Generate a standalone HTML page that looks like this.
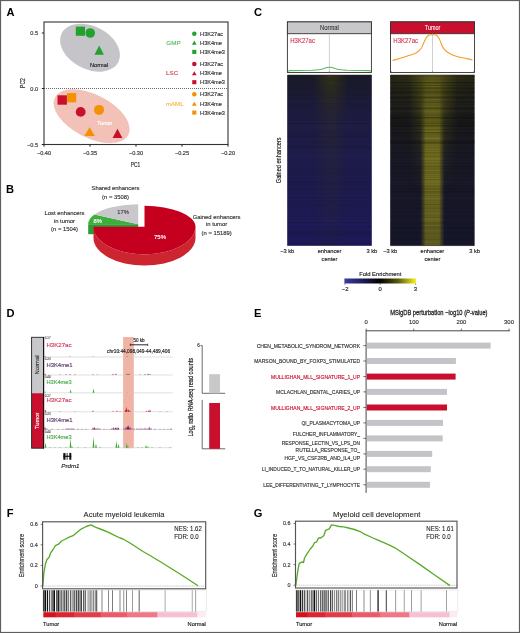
<!DOCTYPE html>
<html><head><meta charset="utf-8"><style>
html,body{margin:0;padding:0;background:#fff;}
svg{display:block;will-change:transform;}
text{font-family:"Liberation Sans", sans-serif;}
</style></head><body>
<svg width="520" height="633" viewBox="0 0 520 633">
<rect width="520" height="633" fill="#fff"/>
<text x="6.40" y="16.10" font-size="11.1" fill="#000" font-weight="bold" >A</text>
<text x="5.90" y="193.10" font-size="11.1" fill="#000" font-weight="bold" >B</text>
<text x="253.90" y="16.30" font-size="11.1" fill="#000" font-weight="bold" >C</text>
<text x="6.40" y="316.80" font-size="11.1" fill="#000" font-weight="bold" >D</text>
<text x="253.90" y="316.80" font-size="11.1" fill="#000" font-weight="bold" >E</text>
<text x="6.80" y="517.40" font-size="11.1" fill="#000" font-weight="bold" >F</text>
<text x="253.70" y="517.40" font-size="11.1" fill="#000" font-weight="bold" >G</text>
<ellipse cx="90" cy="47.7" rx="31.8" ry="21.5" transform="rotate(27 90 47.7)" fill="#c5c5c9"/>
<ellipse cx="91.6" cy="116.2" rx="41.3" ry="21.6" transform="rotate(27 91.6 116.2)" fill="#f2c2b8"/>
<rect x="75.80" y="26.60" width="9.2" height="9.2" fill="#22a12e"/>
<circle cx="90.2" cy="33.0" r="4.8" fill="#22a12e"/>
<path d="M94.50 54.70 L99.20 45.50 L103.90 54.70Z" fill="#22a12e"/>
<rect x="67.00" y="93.10" width="9.2" height="9.2" fill="#f39200"/>
<rect x="57.50" y="95.30" width="9.4" height="9.4" fill="#c8102e"/>
<circle cx="80.65" cy="111.9" r="4.9" fill="#c8102e"/>
<circle cx="99" cy="109.9" r="5" fill="#f39200"/>
<path d="M84.30 135.90 L89.60 127.20 L94.90 135.90Z" fill="#f39200"/>
<path d="M112.60 138.10 L117.50 128.70 L122.40 138.10Z" fill="#c8102e"/>
<text x="99.00" y="67.00" font-size="5.6" fill="#222" text-anchor="middle" stroke="#222" stroke-width="0.15" >Normal</text>
<text x="104.80" y="125.30" font-size="5.4" fill="#fff" text-anchor="middle" stroke="#fff" stroke-width="0.15" textLength="14.9" lengthAdjust="spacingAndGlyphs" >Tumor</text>
<line x1="44" y1="88.5" x2="228" y2="88.5" stroke="#444" stroke-width="0.8" stroke-dasharray="1 1"/>
<rect x="44" y="22" width="184" height="122.5" fill="none" stroke="#333" stroke-width="1.1"/>
<line x1="41.8" y1="33" x2="44" y2="33" stroke="#222" stroke-width="1"/>
<text x="38.10" y="35.10" font-size="5.6" fill="#333" text-anchor="end" stroke="#333" stroke-width="0.15" >0.5</text>
<line x1="41.8" y1="88.5" x2="44" y2="88.5" stroke="#222" stroke-width="1"/>
<text x="38.10" y="90.60" font-size="5.6" fill="#333" text-anchor="end" stroke="#333" stroke-width="0.15" >0.0</text>
<line x1="41.8" y1="144.5" x2="44" y2="144.5" stroke="#222" stroke-width="1"/>
<text x="38.10" y="146.60" font-size="5.6" fill="#333" text-anchor="end" stroke="#333" stroke-width="0.15" >−0.5</text>
<line x1="44" y1="144.5" x2="44" y2="146.7" stroke="#222" stroke-width="1"/>
<text x="44.00" y="155.00" font-size="5.6" fill="#333" text-anchor="middle" stroke="#333" stroke-width="0.15" >−0.40</text>
<line x1="90" y1="144.5" x2="90" y2="146.7" stroke="#222" stroke-width="1"/>
<text x="90.00" y="155.00" font-size="5.6" fill="#333" text-anchor="middle" stroke="#333" stroke-width="0.15" >−0.35</text>
<line x1="136" y1="144.5" x2="136" y2="146.7" stroke="#222" stroke-width="1"/>
<text x="136.00" y="155.00" font-size="5.6" fill="#333" text-anchor="middle" stroke="#333" stroke-width="0.15" >−0.30</text>
<line x1="182" y1="144.5" x2="182" y2="146.7" stroke="#222" stroke-width="1"/>
<text x="182.00" y="155.00" font-size="5.6" fill="#333" text-anchor="middle" stroke="#333" stroke-width="0.15" >−0.25</text>
<line x1="228" y1="144.5" x2="228" y2="146.7" stroke="#222" stroke-width="1"/>
<text x="228.00" y="155.00" font-size="5.6" fill="#333" text-anchor="middle" stroke="#333" stroke-width="0.15" >−0.20</text>
<text x="135.50" y="167.00" font-size="7.6" fill="#222" text-anchor="middle" stroke="#222" stroke-width="0.15" textLength="9.6" lengthAdjust="spacingAndGlyphs" >PC1</text>
<text x="24.60" y="83.00" font-size="7.6" fill="#222" text-anchor="middle" stroke="#222" stroke-width="0.15" textLength="9.8" lengthAdjust="spacingAndGlyphs" transform="rotate(-90 24.60 83.00)" >PC2</text>
<circle cx="194.3" cy="33.7" r="2.25" fill="#22a12e"/>
<text x="200.10" y="35.70" font-size="5.6" fill="#333" stroke="#333" stroke-width="0.15" >H3K27ac</text>
<path d="M192.00 44.65 L194.30 40.55 L196.60 44.65Z" fill="#22a12e"/>
<text x="200.10" y="44.50" font-size="5.6" fill="#333" stroke="#333" stroke-width="0.15" >H3K4me</text>
<rect x="192.25" y="49.85" width="4.1" height="4.1" fill="#22a12e"/>
<text x="200.10" y="53.90" font-size="5.6" fill="#333" stroke="#333" stroke-width="0.15" >H3K4me3</text>
<circle cx="194.3" cy="64" r="2.25" fill="#c8102e"/>
<text x="200.10" y="66.00" font-size="5.6" fill="#333" stroke="#333" stroke-width="0.15" >H3K27ac</text>
<path d="M192.00 75.25 L194.30 71.15 L196.60 75.25Z" fill="#c8102e"/>
<text x="200.10" y="75.10" font-size="5.6" fill="#333" stroke="#333" stroke-width="0.15" >H3K4me</text>
<rect x="192.25" y="80.15" width="4.1" height="4.1" fill="#c8102e"/>
<text x="200.10" y="84.20" font-size="5.6" fill="#333" stroke="#333" stroke-width="0.15" >H3K4me3</text>
<circle cx="194.3" cy="94.3" r="2.25" fill="#f39200"/>
<text x="200.10" y="96.30" font-size="5.6" fill="#333" stroke="#333" stroke-width="0.15" >H3K27ac</text>
<path d="M192.00 105.65 L194.30 101.55 L196.60 105.65Z" fill="#f39200"/>
<text x="200.10" y="105.50" font-size="5.6" fill="#333" stroke="#333" stroke-width="0.15" >H3K4me</text>
<rect x="192.25" y="110.55" width="4.1" height="4.1" fill="#f39200"/>
<text x="200.10" y="114.60" font-size="5.6" fill="#333" stroke="#333" stroke-width="0.15" >H3K4me3</text>
<text x="166.30" y="44.60" font-size="6.2" fill="#5cb85c" stroke="#5cb85c" stroke-width="0.15" textLength="14.4" lengthAdjust="spacingAndGlyphs" >GMP</text>
<text x="166.10" y="75.30" font-size="6.2" fill="#d0485a" stroke="#d0485a" stroke-width="0.15" textLength="12.1" lengthAdjust="spacingAndGlyphs" >LSC</text>
<text x="166.10" y="105.60" font-size="6.2" fill="#f5b54a" stroke="#f5b54a" stroke-width="0.15" textLength="17.4" lengthAdjust="spacingAndGlyphs" >mAML</text>
<rect x="88.20" y="224.20" width="50" height="10" fill="#2f9a33"/>
<path d="M138.2 224.2 L88.20 224.20 A50 20 0 0 1 94.38 214.56 Z" fill="#3fae3c"/>
<path d="M138.2 224.2 L94.38 214.56 A50 20 0 0 1 138.20 204.20 Z" fill="#c8c8cc"/>
<path d="M195.5 226.8 A51 27.6 0 0 1 93.5 226.8 L93.5 237.9 A51 27.6 0 0 0 195.5 237.9 Z" fill="#cc2530"/>
<path d="M144.5 226.8 L144.5 205.8 A51 21 0 0 1 195.5 226.8 A51 27.6 0 0 1 93.5 226.8 Z" fill="#c5001f"/>
<text x="123.00" y="214.30" font-size="5.8" fill="#444" text-anchor="middle" stroke="#444" stroke-width="0.15" >17%</text>
<text x="97.80" y="222.80" font-size="5.8" fill="#fff" text-anchor="middle" stroke="#fff" stroke-width="0.15" >8%</text>
<text x="160.00" y="239.40" font-size="6" fill="#fff" text-anchor="middle" stroke="#fff" stroke-width="0.15" >75%</text>
<text x="115.50" y="190.30" font-size="5.85" fill="#333" text-anchor="middle" stroke="#333" stroke-width="0.15" >Shared enhancers</text>
<text x="115.50" y="198.60" font-size="5.85" fill="#333" text-anchor="middle" stroke="#333" stroke-width="0.15" >(n = 3508)</text>
<text x="64.50" y="215.10" font-size="5.85" fill="#333" text-anchor="middle" stroke="#333" stroke-width="0.15" >Lost enhancers</text>
<text x="64.50" y="222.90" font-size="5.85" fill="#333" text-anchor="middle" stroke="#333" stroke-width="0.15" >in tumor</text>
<text x="64.50" y="230.60" font-size="5.85" fill="#333" text-anchor="middle" stroke="#333" stroke-width="0.15" >(n = 1504)</text>
<text x="216.60" y="218.60" font-size="5.85" fill="#333" text-anchor="middle" stroke="#333" stroke-width="0.15" >Gained enhancers</text>
<text x="216.60" y="226.30" font-size="5.85" fill="#333" text-anchor="middle" stroke="#333" stroke-width="0.15" >in tumor</text>
<text x="216.60" y="234.60" font-size="5.85" fill="#333" text-anchor="middle" stroke="#333" stroke-width="0.15" >(n = 15189)</text>
<rect x="287.4" y="21.9" width="84.00" height="50.60" fill="#fff" stroke="#333" stroke-width="0.9"/>
<rect x="287.4" y="21.9" width="84.00" height="11.80" fill="#c8c8cb" stroke="#333" stroke-width="0.9"/>
<text x="329.40" y="30.20" font-size="6.6" fill="#333" text-anchor="middle" stroke="#333" stroke-width="0.08" textLength="18.9" lengthAdjust="spacingAndGlyphs" >Normal</text>
<line x1="329.40" y1="33.7" x2="329.40" y2="72.5" stroke="#b0b0b0" stroke-width="0.6"/>
<text x="290.20" y="42.70" font-size="6.6" fill="#d0304a" stroke="#d0304a" stroke-width="0.1" textLength="24.8" lengthAdjust="spacingAndGlyphs" >H3K27ac</text>
<line x1="288.40" y1="71.3" x2="288.40" y2="73.2" stroke="#555" stroke-width="0.6"/>
<line x1="329.40" y1="71.3" x2="329.40" y2="73.2" stroke="#555" stroke-width="0.6"/>
<line x1="370.40" y1="71.3" x2="370.40" y2="73.2" stroke="#555" stroke-width="0.6"/>
<rect x="390.5" y="21.9" width="84.00" height="50.60" fill="#fff" stroke="#333" stroke-width="0.9"/>
<rect x="390.5" y="21.9" width="84.00" height="11.80" fill="#c8102e" stroke="#333" stroke-width="0.9"/>
<text x="432.50" y="30.20" font-size="6.6" fill="#fff" text-anchor="middle" stroke="#fff" stroke-width="0.08" textLength="15.4" lengthAdjust="spacingAndGlyphs" >Tumor</text>
<line x1="432.50" y1="33.7" x2="432.50" y2="72.5" stroke="#b0b0b0" stroke-width="0.6"/>
<text x="393.30" y="42.70" font-size="6.6" fill="#d0304a" stroke="#d0304a" stroke-width="0.1" textLength="24.8" lengthAdjust="spacingAndGlyphs" >H3K27ac</text>
<line x1="391.50" y1="71.3" x2="391.50" y2="73.2" stroke="#555" stroke-width="0.6"/>
<line x1="432.50" y1="71.3" x2="432.50" y2="73.2" stroke="#555" stroke-width="0.6"/>
<line x1="473.50" y1="71.3" x2="473.50" y2="73.2" stroke="#555" stroke-width="0.6"/>
<path d="M288.5 70.6 L312 70.3 Q320 69.8 324 68.4 Q329.4 66.2 335 68.4 Q339 69.8 347 70.3 L370.5 70.6" fill="none" stroke="#5cb85c" stroke-width="1.1"/>
<path d="M392.50 60.50 C394.92 59.78 403.00 57.50 407.00 56.20 C411.00 54.90 414.12 54.02 416.50 52.70 C418.88 51.38 420.08 49.97 421.30 48.30 C422.52 46.63 422.98 44.45 423.80 42.70 C424.62 40.95 425.33 39.07 426.20 37.80 C427.07 36.53 427.97 35.62 429.00 35.10 C430.03 34.58 431.27 34.70 432.40 34.70 C433.53 34.70 434.75 34.58 435.80 35.10 C436.85 35.62 437.80 36.42 438.70 37.80 C439.60 39.18 440.40 41.65 441.20 43.40 C442.00 45.15 442.17 46.65 443.50 48.30 C444.83 49.95 446.97 51.93 449.20 53.30 C451.43 54.67 453.02 55.42 456.90 56.50 C460.78 57.58 469.90 59.25 472.50 59.80" fill="none" stroke="#f0a020" stroke-width="1.1"/>
<defs>
<linearGradient id="hmL" x1="0" y1="0" x2="0" y2="1">
 <stop offset="0" stop-color="#1b1b26"/>
 <stop offset="0.08" stop-color="#1c1c32"/>
 <stop offset="0.17" stop-color="#1e1c3c"/>
 <stop offset="0.35" stop-color="#1f1d46"/>
 <stop offset="0.65" stop-color="#1f1c50"/>
 <stop offset="1" stop-color="#1d1a57"/>
</linearGradient>
<linearGradient id="hmLc" x1="0" y1="0" x2="1" y2="0">
 <stop offset="0" stop-color="#3a3a18" stop-opacity="0"/>
 <stop offset="0.3" stop-color="#3a3a18" stop-opacity="0.0"/>
 <stop offset="0.48" stop-color="#3a3a18" stop-opacity="0.7"/>
 <stop offset="0.55" stop-color="#3a3a18" stop-opacity="0.7"/>
 <stop offset="0.72" stop-color="#3a3a18" stop-opacity="0.0"/>
 <stop offset="1" stop-color="#3a3a18" stop-opacity="0"/>
</linearGradient>
<linearGradient id="hmLv" x1="0" y1="0" x2="0" y2="1">
 <stop offset="0" stop-color="#fff" stop-opacity="1"/>
 <stop offset="0.25" stop-color="#fff" stop-opacity="0.35"/>
 <stop offset="1" stop-color="#fff" stop-opacity="0.12"/>
</linearGradient>
<mask id="mLv" maskUnits="userSpaceOnUse" x="280" y="70" width="100" height="180"><rect x="287" y="74.8" width="85" height="171" fill="url(#hmLv)"/></mask>
<linearGradient id="hmR" x1="0" y1="0" x2="0" y2="1">
 <stop offset="0" stop-color="#22221a"/>
 <stop offset="0.25" stop-color="#1c1c20"/>
 <stop offset="0.6" stop-color="#1a1a2a"/>
 <stop offset="1" stop-color="#1a1a30"/>
</linearGradient>
<linearGradient id="hmRw" x1="0" y1="0" x2="1" y2="0">
 <stop offset="0" stop-color="#5a5a1e" stop-opacity="0.35"/>
 <stop offset="0.25" stop-color="#5a5a1e" stop-opacity="0.6"/>
 <stop offset="0.5" stop-color="#6a6a1e" stop-opacity="0.9"/>
 <stop offset="0.75" stop-color="#5a5a1e" stop-opacity="0.55"/>
 <stop offset="1" stop-color="#5a5a1e" stop-opacity="0.3"/>
</linearGradient>
<linearGradient id="hmRwv" x1="0" y1="0" x2="0" y2="1">
 <stop offset="0" stop-color="#fff" stop-opacity="0.8"/>
 <stop offset="0.04" stop-color="#fff" stop-opacity="0.45"/>
 <stop offset="0.15" stop-color="#fff" stop-opacity="0.2"/>
 <stop offset="0.4" stop-color="#fff" stop-opacity="0.0"/>
</linearGradient>
<mask id="mRw" maskUnits="userSpaceOnUse" x="380" y="70" width="100" height="180"><rect x="390" y="74.8" width="85" height="171" fill="url(#hmRwv)"/></mask>
<linearGradient id="hmRc" x1="0" y1="0" x2="1" y2="0">
 <stop offset="0" stop-color="#7e7a22" stop-opacity="0"/>
 <stop offset="0.355" stop-color="#7e7a22" stop-opacity="0.0"/>
 <stop offset="0.39" stop-color="#7e7a22" stop-opacity="0.45"/>
 <stop offset="0.42" stop-color="#827d22" stop-opacity="0.95"/>
 <stop offset="0.58" stop-color="#827d22" stop-opacity="0.95"/>
 <stop offset="0.61" stop-color="#7e7a22" stop-opacity="0.45"/>
 <stop offset="0.645" stop-color="#7e7a22" stop-opacity="0.0"/>
 <stop offset="1" stop-color="#7e7a22" stop-opacity="0"/>
</linearGradient>
<linearGradient id="hmRcv" x1="0" y1="0" x2="0" y2="1">
 <stop offset="0" stop-color="#fff" stop-opacity="0.25"/>
 <stop offset="0.12" stop-color="#fff" stop-opacity="0.45"/>
 <stop offset="0.3" stop-color="#fff" stop-opacity="0.85"/>
 <stop offset="0.6" stop-color="#fff" stop-opacity="0.9"/>
 <stop offset="1" stop-color="#fff" stop-opacity="0.8"/>
</linearGradient>
<mask id="mRc" maskUnits="userSpaceOnUse" x="380" y="70" width="100" height="180"><rect x="390" y="74.8" width="85" height="171" fill="url(#hmRcv)"/></mask>
<linearGradient id="hmRm" x1="0" y1="0" x2="1" y2="0">
 <stop offset="0" stop-color="#6a681e" stop-opacity="0"/>
 <stop offset="0.22" stop-color="#6a681e" stop-opacity="0.0"/>
 <stop offset="0.36" stop-color="#6a681e" stop-opacity="0.55"/>
 <stop offset="0.5" stop-color="#6a681e" stop-opacity="0.8"/>
 <stop offset="0.64" stop-color="#6a681e" stop-opacity="0.55"/>
 <stop offset="0.8" stop-color="#6a681e" stop-opacity="0.0"/>
 <stop offset="1" stop-color="#6a681e" stop-opacity="0"/>
</linearGradient>
<linearGradient id="hmRmv" x1="0" y1="0" x2="0" y2="1">
 <stop offset="0" stop-color="#fff" stop-opacity="0.9"/>
 <stop offset="0.2" stop-color="#fff" stop-opacity="0.7"/>
 <stop offset="0.45" stop-color="#fff" stop-opacity="0.25"/>
 <stop offset="0.7" stop-color="#fff" stop-opacity="0.0"/>
</linearGradient>
<mask id="mRm" maskUnits="userSpaceOnUse" x="380" y="70" width="100" height="180"><rect x="390" y="74.8" width="85" height="171" fill="url(#hmRmv)"/></mask>
<linearGradient id="cbar" x1="0" y1="0" x2="1" y2="0">
 <stop offset="0" stop-color="#3a3aa0"/>
 <stop offset="0.25" stop-color="#1e1e5a"/>
 <stop offset="0.5" stop-color="#000"/>
 <stop offset="0.75" stop-color="#5a5a10"/>
 <stop offset="1" stop-color="#f5f520"/>
</linearGradient>
</defs>
<rect x="287.2" y="74.8" width="84.6" height="171.0" fill="url(#hmL)"/>
<rect x="287.2" y="74.8" width="84.6" height="171.0" fill="url(#hmLc)" mask="url(#mLv)"/>
<rect x="287.2" y="74.80" width="84.6" height="0.7" fill="#000" opacity="0.09"/>
<rect x="287.2" y="75.50" width="84.6" height="1.0" fill="#3a3490" opacity="0.00"/>
<rect x="287.2" y="76.50" width="84.6" height="0.5" fill="#000" opacity="0.03"/>
<rect x="287.2" y="77.00" width="84.6" height="1.0" fill="#000" opacity="0.02"/>
<rect x="287.2" y="78.00" width="84.6" height="0.7" fill="#000" opacity="0.04"/>
<rect x="287.2" y="78.70" width="84.6" height="0.5" fill="#000" opacity="0.05"/>
<rect x="287.2" y="79.20" width="84.6" height="1.0" fill="#000" opacity="0.01"/>
<rect x="287.2" y="80.20" width="84.6" height="1.0" fill="#000" opacity="0.06"/>
<rect x="287.2" y="81.20" width="84.6" height="1.0" fill="#000" opacity="0.05"/>
<rect x="287.2" y="82.20" width="84.6" height="0.5" fill="#000" opacity="0.00"/>
<rect x="287.2" y="82.70" width="84.6" height="0.7" fill="#3a3490" opacity="0.04"/>
<rect x="287.2" y="83.40" width="84.6" height="0.5" fill="#3a3490" opacity="0.05"/>
<rect x="287.2" y="83.90" width="84.6" height="1.0" fill="#3a3490" opacity="0.02"/>
<rect x="287.2" y="84.90" width="84.6" height="1.0" fill="#000" opacity="0.06"/>
<rect x="287.2" y="85.90" width="84.6" height="0.5" fill="#000" opacity="0.05"/>
<rect x="287.2" y="86.40" width="84.6" height="1.0" fill="#000" opacity="0.01"/>
<rect x="287.2" y="87.40" width="84.6" height="0.7" fill="#000" opacity="0.06"/>
<rect x="287.2" y="88.10" width="84.6" height="0.7" fill="#000" opacity="0.04"/>
<rect x="287.2" y="88.80" width="84.6" height="0.7" fill="#000" opacity="0.03"/>
<rect x="287.2" y="89.50" width="84.6" height="1.0" fill="#000" opacity="0.07"/>
<rect x="287.2" y="90.50" width="84.6" height="1.0" fill="#000" opacity="0.03"/>
<rect x="287.2" y="91.50" width="84.6" height="0.7" fill="#000" opacity="0.07"/>
<rect x="287.2" y="92.20" width="84.6" height="1.0" fill="#000" opacity="0.09"/>
<rect x="287.2" y="93.20" width="84.6" height="1.0" fill="#000" opacity="0.04"/>
<rect x="287.2" y="94.20" width="84.6" height="0.5" fill="#000" opacity="0.08"/>
<rect x="287.2" y="94.70" width="84.6" height="0.5" fill="#000" opacity="0.09"/>
<rect x="287.2" y="95.20" width="84.6" height="1.0" fill="#000" opacity="0.05"/>
<rect x="287.2" y="96.20" width="84.6" height="0.7" fill="#3a3490" opacity="0.06"/>
<rect x="287.2" y="96.90" width="84.6" height="0.7" fill="#000" opacity="0.05"/>
<rect x="287.2" y="97.60" width="84.6" height="0.5" fill="#000" opacity="0.08"/>
<rect x="287.2" y="98.10" width="84.6" height="0.7" fill="#000" opacity="0.06"/>
<rect x="287.2" y="98.80" width="84.6" height="0.5" fill="#000" opacity="0.07"/>
<rect x="287.2" y="99.30" width="84.6" height="1.0" fill="#3a3490" opacity="0.05"/>
<rect x="287.2" y="100.30" width="84.6" height="0.7" fill="#000" opacity="0.03"/>
<rect x="287.2" y="101.00" width="84.6" height="1.0" fill="#000" opacity="0.03"/>
<rect x="287.2" y="102.00" width="84.6" height="0.7" fill="#000" opacity="0.02"/>
<rect x="287.2" y="102.70" width="84.6" height="0.7" fill="#000" opacity="0.01"/>
<rect x="287.2" y="103.40" width="84.6" height="0.5" fill="#000" opacity="0.07"/>
<rect x="287.2" y="103.90" width="84.6" height="0.7" fill="#000" opacity="0.08"/>
<rect x="287.2" y="104.60" width="84.6" height="0.5" fill="#000" opacity="0.01"/>
<rect x="287.2" y="105.10" width="84.6" height="1.0" fill="#000" opacity="0.03"/>
<rect x="287.2" y="106.10" width="84.6" height="0.7" fill="#000" opacity="0.08"/>
<rect x="287.2" y="106.80" width="84.6" height="1.0" fill="#000" opacity="0.04"/>
<rect x="287.2" y="107.80" width="84.6" height="1.0" fill="#000" opacity="0.08"/>
<rect x="287.2" y="108.80" width="84.6" height="0.5" fill="#000" opacity="0.01"/>
<rect x="287.2" y="109.30" width="84.6" height="0.5" fill="#000" opacity="0.06"/>
<rect x="287.2" y="109.80" width="84.6" height="0.7" fill="#000" opacity="0.07"/>
<rect x="287.2" y="110.50" width="84.6" height="0.7" fill="#000" opacity="0.03"/>
<rect x="287.2" y="111.20" width="84.6" height="0.7" fill="#3a3490" opacity="0.05"/>
<rect x="287.2" y="111.90" width="84.6" height="1.0" fill="#000" opacity="0.03"/>
<rect x="287.2" y="112.90" width="84.6" height="1.0" fill="#3a3490" opacity="0.08"/>
<rect x="287.2" y="113.90" width="84.6" height="1.0" fill="#000" opacity="0.06"/>
<rect x="287.2" y="114.90" width="84.6" height="0.7" fill="#3a3490" opacity="0.08"/>
<rect x="287.2" y="115.60" width="84.6" height="1.0" fill="#000" opacity="0.04"/>
<rect x="287.2" y="116.60" width="84.6" height="0.7" fill="#3a3490" opacity="0.01"/>
<rect x="287.2" y="117.30" width="84.6" height="0.7" fill="#000" opacity="0.01"/>
<rect x="287.2" y="118.00" width="84.6" height="0.5" fill="#000" opacity="0.04"/>
<rect x="287.2" y="118.50" width="84.6" height="0.7" fill="#000" opacity="0.05"/>
<rect x="287.2" y="119.20" width="84.6" height="0.5" fill="#3a3490" opacity="0.05"/>
<rect x="287.2" y="119.70" width="84.6" height="0.5" fill="#3a3490" opacity="0.09"/>
<rect x="287.2" y="120.20" width="84.6" height="0.5" fill="#000" opacity="0.01"/>
<rect x="287.2" y="120.70" width="84.6" height="1.0" fill="#3a3490" opacity="0.03"/>
<rect x="287.2" y="121.70" width="84.6" height="0.7" fill="#3a3490" opacity="0.09"/>
<rect x="287.2" y="122.40" width="84.6" height="0.7" fill="#000" opacity="0.04"/>
<rect x="287.2" y="123.10" width="84.6" height="0.7" fill="#000" opacity="0.09"/>
<rect x="287.2" y="123.80" width="84.6" height="0.7" fill="#000" opacity="0.04"/>
<rect x="287.2" y="124.50" width="84.6" height="0.5" fill="#000" opacity="0.01"/>
<rect x="287.2" y="125.00" width="84.6" height="1.0" fill="#3a3490" opacity="0.02"/>
<rect x="287.2" y="126.00" width="84.6" height="0.5" fill="#000" opacity="0.05"/>
<rect x="287.2" y="126.50" width="84.6" height="1.0" fill="#3a3490" opacity="0.03"/>
<rect x="287.2" y="127.50" width="84.6" height="1.0" fill="#3a3490" opacity="0.08"/>
<rect x="287.2" y="128.50" width="84.6" height="0.7" fill="#000" opacity="0.09"/>
<rect x="287.2" y="129.20" width="84.6" height="1.0" fill="#3a3490" opacity="0.08"/>
<rect x="287.2" y="130.20" width="84.6" height="0.7" fill="#000" opacity="0.08"/>
<rect x="287.2" y="130.90" width="84.6" height="0.5" fill="#3a3490" opacity="0.05"/>
<rect x="287.2" y="131.40" width="84.6" height="0.7" fill="#3a3490" opacity="0.06"/>
<rect x="287.2" y="132.10" width="84.6" height="0.5" fill="#000" opacity="0.07"/>
<rect x="287.2" y="132.60" width="84.6" height="1.0" fill="#000" opacity="0.07"/>
<rect x="287.2" y="133.60" width="84.6" height="1.0" fill="#3a3490" opacity="0.04"/>
<rect x="287.2" y="134.60" width="84.6" height="0.5" fill="#000" opacity="0.09"/>
<rect x="287.2" y="135.10" width="84.6" height="0.7" fill="#3a3490" opacity="0.02"/>
<rect x="287.2" y="135.80" width="84.6" height="1.0" fill="#000" opacity="0.09"/>
<rect x="287.2" y="136.80" width="84.6" height="1.0" fill="#000" opacity="0.09"/>
<rect x="287.2" y="137.80" width="84.6" height="0.5" fill="#000" opacity="0.02"/>
<rect x="287.2" y="138.30" width="84.6" height="0.7" fill="#000" opacity="0.02"/>
<rect x="287.2" y="139.00" width="84.6" height="0.7" fill="#3a3490" opacity="0.06"/>
<rect x="287.2" y="139.70" width="84.6" height="0.5" fill="#3a3490" opacity="0.04"/>
<rect x="287.2" y="140.20" width="84.6" height="0.7" fill="#000" opacity="0.07"/>
<rect x="287.2" y="140.90" width="84.6" height="1.0" fill="#000" opacity="0.01"/>
<rect x="287.2" y="141.90" width="84.6" height="1.0" fill="#000" opacity="0.07"/>
<rect x="287.2" y="142.90" width="84.6" height="0.5" fill="#3a3490" opacity="0.04"/>
<rect x="287.2" y="143.40" width="84.6" height="0.7" fill="#3a3490" opacity="0.01"/>
<rect x="287.2" y="144.10" width="84.6" height="0.7" fill="#3a3490" opacity="0.04"/>
<rect x="287.2" y="144.80" width="84.6" height="0.5" fill="#000" opacity="0.07"/>
<rect x="287.2" y="145.30" width="84.6" height="0.5" fill="#3a3490" opacity="0.00"/>
<rect x="287.2" y="145.80" width="84.6" height="0.7" fill="#000" opacity="0.07"/>
<rect x="287.2" y="146.50" width="84.6" height="1.0" fill="#000" opacity="0.07"/>
<rect x="287.2" y="147.50" width="84.6" height="1.0" fill="#000" opacity="0.08"/>
<rect x="287.2" y="148.50" width="84.6" height="1.0" fill="#000" opacity="0.05"/>
<rect x="287.2" y="149.50" width="84.6" height="0.5" fill="#3a3490" opacity="0.07"/>
<rect x="287.2" y="150.00" width="84.6" height="1.0" fill="#3a3490" opacity="0.01"/>
<rect x="287.2" y="151.00" width="84.6" height="0.5" fill="#000" opacity="0.04"/>
<rect x="287.2" y="151.50" width="84.6" height="0.5" fill="#000" opacity="0.00"/>
<rect x="287.2" y="152.00" width="84.6" height="0.7" fill="#3a3490" opacity="0.05"/>
<rect x="287.2" y="152.70" width="84.6" height="0.7" fill="#000" opacity="0.02"/>
<rect x="287.2" y="153.40" width="84.6" height="0.5" fill="#3a3490" opacity="0.01"/>
<rect x="287.2" y="153.90" width="84.6" height="0.7" fill="#3a3490" opacity="0.08"/>
<rect x="287.2" y="154.60" width="84.6" height="1.0" fill="#3a3490" opacity="0.07"/>
<rect x="287.2" y="155.60" width="84.6" height="0.7" fill="#3a3490" opacity="0.07"/>
<rect x="287.2" y="156.30" width="84.6" height="0.5" fill="#3a3490" opacity="0.05"/>
<rect x="287.2" y="156.80" width="84.6" height="1.0" fill="#000" opacity="0.00"/>
<rect x="287.2" y="157.80" width="84.6" height="0.5" fill="#000" opacity="0.05"/>
<rect x="287.2" y="158.30" width="84.6" height="0.5" fill="#3a3490" opacity="0.01"/>
<rect x="287.2" y="158.80" width="84.6" height="1.0" fill="#000" opacity="0.01"/>
<rect x="287.2" y="159.80" width="84.6" height="0.7" fill="#3a3490" opacity="0.06"/>
<rect x="287.2" y="160.50" width="84.6" height="1.0" fill="#000" opacity="0.04"/>
<rect x="287.2" y="161.50" width="84.6" height="1.0" fill="#000" opacity="0.01"/>
<rect x="287.2" y="162.50" width="84.6" height="0.7" fill="#000" opacity="0.00"/>
<rect x="287.2" y="163.20" width="84.6" height="1.0" fill="#000" opacity="0.04"/>
<rect x="287.2" y="164.20" width="84.6" height="0.5" fill="#3a3490" opacity="0.04"/>
<rect x="287.2" y="164.70" width="84.6" height="1.0" fill="#000" opacity="0.05"/>
<rect x="287.2" y="165.70" width="84.6" height="1.0" fill="#3a3490" opacity="0.02"/>
<rect x="287.2" y="166.70" width="84.6" height="1.0" fill="#3a3490" opacity="0.07"/>
<rect x="287.2" y="167.70" width="84.6" height="0.5" fill="#000" opacity="0.06"/>
<rect x="287.2" y="168.20" width="84.6" height="1.0" fill="#000" opacity="0.08"/>
<rect x="287.2" y="169.20" width="84.6" height="0.7" fill="#000" opacity="0.01"/>
<rect x="287.2" y="169.90" width="84.6" height="0.7" fill="#000" opacity="0.04"/>
<rect x="287.2" y="170.60" width="84.6" height="1.0" fill="#000" opacity="0.02"/>
<rect x="287.2" y="171.60" width="84.6" height="0.5" fill="#000" opacity="0.06"/>
<rect x="287.2" y="172.10" width="84.6" height="0.5" fill="#3a3490" opacity="0.08"/>
<rect x="287.2" y="172.60" width="84.6" height="1.0" fill="#000" opacity="0.03"/>
<rect x="287.2" y="173.60" width="84.6" height="0.5" fill="#000" opacity="0.09"/>
<rect x="287.2" y="174.10" width="84.6" height="1.0" fill="#000" opacity="0.09"/>
<rect x="287.2" y="175.10" width="84.6" height="0.7" fill="#3a3490" opacity="0.01"/>
<rect x="287.2" y="175.80" width="84.6" height="0.5" fill="#000" opacity="0.01"/>
<rect x="287.2" y="176.30" width="84.6" height="1.0" fill="#000" opacity="0.04"/>
<rect x="287.2" y="177.30" width="84.6" height="0.5" fill="#000" opacity="0.03"/>
<rect x="287.2" y="177.80" width="84.6" height="1.0" fill="#000" opacity="0.03"/>
<rect x="287.2" y="178.80" width="84.6" height="1.0" fill="#3a3490" opacity="0.04"/>
<rect x="287.2" y="179.80" width="84.6" height="0.5" fill="#3a3490" opacity="0.03"/>
<rect x="287.2" y="180.30" width="84.6" height="1.0" fill="#000" opacity="0.03"/>
<rect x="287.2" y="181.30" width="84.6" height="0.5" fill="#000" opacity="0.09"/>
<rect x="287.2" y="181.80" width="84.6" height="0.5" fill="#000" opacity="0.01"/>
<rect x="287.2" y="182.30" width="84.6" height="0.5" fill="#000" opacity="0.08"/>
<rect x="287.2" y="182.80" width="84.6" height="0.7" fill="#000" opacity="0.07"/>
<rect x="287.2" y="183.50" width="84.6" height="1.0" fill="#000" opacity="0.07"/>
<rect x="287.2" y="184.50" width="84.6" height="0.7" fill="#3a3490" opacity="0.01"/>
<rect x="287.2" y="185.20" width="84.6" height="1.0" fill="#000" opacity="0.04"/>
<rect x="287.2" y="186.20" width="84.6" height="0.5" fill="#3a3490" opacity="0.03"/>
<rect x="287.2" y="186.70" width="84.6" height="0.5" fill="#000" opacity="0.04"/>
<rect x="287.2" y="187.20" width="84.6" height="0.7" fill="#3a3490" opacity="0.08"/>
<rect x="287.2" y="187.90" width="84.6" height="0.5" fill="#000" opacity="0.07"/>
<rect x="287.2" y="188.40" width="84.6" height="1.0" fill="#000" opacity="0.08"/>
<rect x="287.2" y="189.40" width="84.6" height="0.7" fill="#000" opacity="0.08"/>
<rect x="287.2" y="190.10" width="84.6" height="0.5" fill="#3a3490" opacity="0.03"/>
<rect x="287.2" y="190.60" width="84.6" height="0.7" fill="#000" opacity="0.08"/>
<rect x="287.2" y="191.30" width="84.6" height="1.0" fill="#3a3490" opacity="0.01"/>
<rect x="287.2" y="192.30" width="84.6" height="1.0" fill="#000" opacity="0.02"/>
<rect x="287.2" y="193.30" width="84.6" height="0.5" fill="#000" opacity="0.02"/>
<rect x="287.2" y="193.80" width="84.6" height="0.5" fill="#3a3490" opacity="0.08"/>
<rect x="287.2" y="194.30" width="84.6" height="0.7" fill="#000" opacity="0.05"/>
<rect x="287.2" y="195.00" width="84.6" height="0.7" fill="#3a3490" opacity="0.04"/>
<rect x="287.2" y="195.70" width="84.6" height="0.5" fill="#000" opacity="0.02"/>
<rect x="287.2" y="196.20" width="84.6" height="0.7" fill="#000" opacity="0.00"/>
<rect x="287.2" y="196.90" width="84.6" height="1.0" fill="#000" opacity="0.05"/>
<rect x="287.2" y="197.90" width="84.6" height="1.0" fill="#000" opacity="0.04"/>
<rect x="287.2" y="198.90" width="84.6" height="0.5" fill="#3a3490" opacity="0.06"/>
<rect x="287.2" y="199.40" width="84.6" height="0.7" fill="#3a3490" opacity="0.06"/>
<rect x="287.2" y="200.10" width="84.6" height="0.7" fill="#000" opacity="0.09"/>
<rect x="287.2" y="200.80" width="84.6" height="1.0" fill="#000" opacity="0.02"/>
<rect x="287.2" y="201.80" width="84.6" height="0.7" fill="#3a3490" opacity="0.02"/>
<rect x="287.2" y="202.50" width="84.6" height="1.0" fill="#000" opacity="0.06"/>
<rect x="287.2" y="203.50" width="84.6" height="0.7" fill="#000" opacity="0.09"/>
<rect x="287.2" y="204.20" width="84.6" height="0.5" fill="#3a3490" opacity="0.01"/>
<rect x="287.2" y="204.70" width="84.6" height="0.7" fill="#000" opacity="0.04"/>
<rect x="287.2" y="205.40" width="84.6" height="0.5" fill="#000" opacity="0.06"/>
<rect x="287.2" y="205.90" width="84.6" height="1.0" fill="#000" opacity="0.06"/>
<rect x="287.2" y="206.90" width="84.6" height="1.0" fill="#000" opacity="0.02"/>
<rect x="287.2" y="207.90" width="84.6" height="0.5" fill="#000" opacity="0.04"/>
<rect x="287.2" y="208.40" width="84.6" height="0.7" fill="#000" opacity="0.04"/>
<rect x="287.2" y="209.10" width="84.6" height="0.7" fill="#3a3490" opacity="0.09"/>
<rect x="287.2" y="209.80" width="84.6" height="0.7" fill="#000" opacity="0.02"/>
<rect x="287.2" y="210.50" width="84.6" height="0.5" fill="#000" opacity="0.03"/>
<rect x="287.2" y="211.00" width="84.6" height="0.7" fill="#000" opacity="0.03"/>
<rect x="287.2" y="211.70" width="84.6" height="0.7" fill="#000" opacity="0.05"/>
<rect x="287.2" y="212.40" width="84.6" height="0.5" fill="#000" opacity="0.05"/>
<rect x="287.2" y="212.90" width="84.6" height="0.5" fill="#000" opacity="0.02"/>
<rect x="287.2" y="213.40" width="84.6" height="0.5" fill="#000" opacity="0.04"/>
<rect x="287.2" y="213.90" width="84.6" height="0.7" fill="#000" opacity="0.00"/>
<rect x="287.2" y="214.60" width="84.6" height="1.0" fill="#3a3490" opacity="0.02"/>
<rect x="287.2" y="215.60" width="84.6" height="1.0" fill="#000" opacity="0.08"/>
<rect x="287.2" y="216.60" width="84.6" height="1.0" fill="#3a3490" opacity="0.08"/>
<rect x="287.2" y="217.60" width="84.6" height="0.7" fill="#3a3490" opacity="0.07"/>
<rect x="287.2" y="218.30" width="84.6" height="0.7" fill="#3a3490" opacity="0.01"/>
<rect x="287.2" y="219.00" width="84.6" height="1.0" fill="#000" opacity="0.06"/>
<rect x="287.2" y="220.00" width="84.6" height="1.0" fill="#3a3490" opacity="0.08"/>
<rect x="287.2" y="221.00" width="84.6" height="0.7" fill="#3a3490" opacity="0.07"/>
<rect x="287.2" y="221.70" width="84.6" height="0.5" fill="#3a3490" opacity="0.08"/>
<rect x="287.2" y="222.20" width="84.6" height="1.0" fill="#000" opacity="0.08"/>
<rect x="287.2" y="223.20" width="84.6" height="1.0" fill="#3a3490" opacity="0.05"/>
<rect x="287.2" y="224.20" width="84.6" height="1.0" fill="#3a3490" opacity="0.09"/>
<rect x="287.2" y="225.20" width="84.6" height="0.5" fill="#000" opacity="0.01"/>
<rect x="287.2" y="225.70" width="84.6" height="0.5" fill="#000" opacity="0.06"/>
<rect x="287.2" y="226.20" width="84.6" height="0.7" fill="#3a3490" opacity="0.08"/>
<rect x="287.2" y="226.90" width="84.6" height="0.5" fill="#3a3490" opacity="0.06"/>
<rect x="287.2" y="227.40" width="84.6" height="1.0" fill="#000" opacity="0.06"/>
<rect x="287.2" y="228.40" width="84.6" height="0.7" fill="#000" opacity="0.00"/>
<rect x="287.2" y="229.10" width="84.6" height="1.0" fill="#3a3490" opacity="0.08"/>
<rect x="287.2" y="230.10" width="84.6" height="0.5" fill="#000" opacity="0.06"/>
<rect x="287.2" y="230.60" width="84.6" height="1.0" fill="#000" opacity="0.07"/>
<rect x="287.2" y="231.60" width="84.6" height="0.5" fill="#000" opacity="0.08"/>
<rect x="287.2" y="232.10" width="84.6" height="1.0" fill="#000" opacity="0.07"/>
<rect x="287.2" y="233.10" width="84.6" height="1.0" fill="#000" opacity="0.06"/>
<rect x="287.2" y="234.10" width="84.6" height="0.7" fill="#000" opacity="0.08"/>
<rect x="287.2" y="234.80" width="84.6" height="0.7" fill="#000" opacity="0.08"/>
<rect x="287.2" y="235.50" width="84.6" height="0.5" fill="#3a3490" opacity="0.06"/>
<rect x="287.2" y="236.00" width="84.6" height="0.5" fill="#000" opacity="0.01"/>
<rect x="287.2" y="236.50" width="84.6" height="0.7" fill="#3a3490" opacity="0.02"/>
<rect x="287.2" y="237.20" width="84.6" height="1.0" fill="#3a3490" opacity="0.03"/>
<rect x="287.2" y="238.20" width="84.6" height="0.5" fill="#000" opacity="0.00"/>
<rect x="287.2" y="238.70" width="84.6" height="0.7" fill="#3a3490" opacity="0.02"/>
<rect x="287.2" y="239.40" width="84.6" height="0.5" fill="#3a3490" opacity="0.06"/>
<rect x="287.2" y="239.90" width="84.6" height="0.7" fill="#3a3490" opacity="0.03"/>
<rect x="287.2" y="240.60" width="84.6" height="0.7" fill="#000" opacity="0.04"/>
<rect x="287.2" y="241.30" width="84.6" height="0.5" fill="#3a3490" opacity="0.09"/>
<rect x="287.2" y="241.80" width="84.6" height="0.5" fill="#000" opacity="0.03"/>
<rect x="287.2" y="242.30" width="84.6" height="0.7" fill="#000" opacity="0.00"/>
<rect x="287.2" y="243.00" width="84.6" height="0.5" fill="#000" opacity="0.07"/>
<rect x="287.2" y="243.50" width="84.6" height="0.7" fill="#000" opacity="0.03"/>
<rect x="287.2" y="244.20" width="84.6" height="0.5" fill="#000" opacity="0.05"/>
<rect x="287.2" y="244.70" width="84.6" height="1.0" fill="#000" opacity="0.05"/>
<rect x="390.2" y="74.8" width="84.4" height="171.0" fill="url(#hmR)"/>
<rect x="390.2" y="74.8" width="84.4" height="171.0" fill="url(#hmRw)" mask="url(#mRw)"/>
<rect x="390.2" y="74.8" width="84.4" height="171.0" fill="url(#hmRm)" mask="url(#mRm)"/>
<rect x="390.2" y="74.8" width="84.4" height="171.0" fill="url(#hmRc)" mask="url(#mRc)"/>
<rect x="390.2" y="74.80" width="84.4" height="0.5" fill="#000" opacity="0.27"/>
<rect x="390.2" y="75.30" width="84.4" height="1.0" fill="#000" opacity="0.23"/>
<rect x="390.2" y="76.30" width="84.4" height="0.5" fill="#000" opacity="0.32"/>
<rect x="390.2" y="76.80" width="84.4" height="0.5" fill="#000" opacity="0.22"/>
<rect x="390.2" y="77.30" width="84.4" height="0.7" fill="#000" opacity="0.18"/>
<rect x="390.2" y="78.00" width="84.4" height="0.5" fill="#000" opacity="0.00"/>
<rect x="390.2" y="78.50" width="84.4" height="0.7" fill="#000" opacity="0.31"/>
<rect x="390.2" y="79.20" width="84.4" height="0.7" fill="#000" opacity="0.14"/>
<rect x="390.2" y="79.90" width="84.4" height="0.5" fill="#000" opacity="0.19"/>
<rect x="390.2" y="80.40" width="84.4" height="0.7" fill="#000" opacity="0.14"/>
<rect x="390.2" y="81.10" width="84.4" height="0.7" fill="#000" opacity="0.00"/>
<rect x="390.2" y="81.80" width="84.4" height="0.7" fill="#000" opacity="0.38"/>
<rect x="390.2" y="82.50" width="84.4" height="0.5" fill="#000" opacity="0.42"/>
<rect x="390.2" y="83.00" width="84.4" height="0.5" fill="#000" opacity="0.32"/>
<rect x="390.2" y="83.50" width="84.4" height="1.0" fill="#000" opacity="0.13"/>
<rect x="390.2" y="84.50" width="84.4" height="0.7" fill="#000" opacity="0.03"/>
<rect x="390.2" y="85.20" width="84.4" height="0.7" fill="#000" opacity="0.45"/>
<rect x="390.2" y="85.90" width="84.4" height="1.0" fill="#000" opacity="0.03"/>
<rect x="390.2" y="86.90" width="84.4" height="0.7" fill="#000" opacity="0.34"/>
<rect x="390.2" y="87.60" width="84.4" height="0.5" fill="#000" opacity="0.13"/>
<rect x="390.2" y="88.10" width="84.4" height="0.5" fill="#000" opacity="0.38"/>
<rect x="390.2" y="88.60" width="84.4" height="0.7" fill="#000" opacity="0.29"/>
<rect x="390.2" y="89.30" width="84.4" height="0.5" fill="#000" opacity="0.11"/>
<rect x="390.2" y="89.80" width="84.4" height="0.7" fill="#000" opacity="0.20"/>
<rect x="390.2" y="90.50" width="84.4" height="0.7" fill="#000" opacity="0.09"/>
<rect x="390.2" y="91.20" width="84.4" height="0.7" fill="#000" opacity="0.35"/>
<rect x="390.2" y="91.90" width="84.4" height="0.7" fill="#000" opacity="0.40"/>
<rect x="390.2" y="92.60" width="84.4" height="1.0" fill="#000" opacity="0.18"/>
<rect x="390.2" y="93.60" width="84.4" height="1.0" fill="#000" opacity="0.25"/>
<rect x="390.2" y="94.60" width="84.4" height="1.0" fill="#000" opacity="0.04"/>
<rect x="390.2" y="95.60" width="84.4" height="1.0" fill="#000" opacity="0.18"/>
<rect x="390.2" y="96.60" width="84.4" height="1.0" fill="#000" opacity="0.34"/>
<rect x="390.2" y="97.60" width="84.4" height="1.0" fill="#000" opacity="0.39"/>
<rect x="390.2" y="98.60" width="84.4" height="0.7" fill="#000" opacity="0.02"/>
<rect x="390.2" y="99.30" width="84.4" height="1.0" fill="#000" opacity="0.06"/>
<rect x="390.2" y="100.30" width="84.4" height="0.7" fill="#000" opacity="0.19"/>
<rect x="390.2" y="101.00" width="84.4" height="0.7" fill="#000" opacity="0.13"/>
<rect x="390.2" y="101.70" width="84.4" height="1.0" fill="#000" opacity="0.33"/>
<rect x="390.2" y="102.70" width="84.4" height="1.0" fill="#000" opacity="0.12"/>
<rect x="390.2" y="103.70" width="84.4" height="1.0" fill="#000" opacity="0.11"/>
<rect x="390.2" y="104.70" width="84.4" height="0.7" fill="#000" opacity="0.25"/>
<rect x="390.2" y="105.40" width="84.4" height="0.7" fill="#000" opacity="0.05"/>
<rect x="390.2" y="106.10" width="84.4" height="1.0" fill="#000" opacity="0.07"/>
<rect x="390.2" y="107.10" width="84.4" height="0.5" fill="#000" opacity="0.23"/>
<rect x="390.2" y="107.60" width="84.4" height="0.7" fill="#000" opacity="0.25"/>
<rect x="390.2" y="108.30" width="84.4" height="0.7" fill="#000" opacity="0.41"/>
<rect x="390.2" y="109.00" width="84.4" height="0.7" fill="#000" opacity="0.19"/>
<rect x="390.2" y="109.70" width="84.4" height="1.0" fill="#000" opacity="0.09"/>
<rect x="390.2" y="110.70" width="84.4" height="0.5" fill="#000" opacity="0.08"/>
<rect x="390.2" y="111.20" width="84.4" height="1.0" fill="#000" opacity="0.04"/>
<rect x="390.2" y="112.20" width="84.4" height="0.5" fill="#000" opacity="0.17"/>
<rect x="390.2" y="112.70" width="84.4" height="1.0" fill="#000" opacity="0.09"/>
<rect x="390.2" y="113.70" width="84.4" height="0.5" fill="#000" opacity="0.34"/>
<rect x="390.2" y="114.20" width="84.4" height="0.7" fill="#000" opacity="0.17"/>
<rect x="390.2" y="114.90" width="84.4" height="1.0" fill="#000" opacity="0.24"/>
<rect x="390.2" y="115.90" width="84.4" height="0.7" fill="#000" opacity="0.12"/>
<rect x="390.2" y="116.60" width="84.4" height="0.5" fill="#000" opacity="0.22"/>
<rect x="390.2" y="117.10" width="84.4" height="1.0" fill="#000" opacity="0.44"/>
<rect x="390.2" y="118.10" width="84.4" height="0.5" fill="#000" opacity="0.31"/>
<rect x="390.2" y="118.60" width="84.4" height="1.0" fill="#000" opacity="0.28"/>
<rect x="390.2" y="119.60" width="84.4" height="0.5" fill="#000" opacity="0.04"/>
<rect x="390.2" y="120.10" width="84.4" height="0.5" fill="#000" opacity="0.17"/>
<rect x="390.2" y="120.60" width="84.4" height="1.0" fill="#000" opacity="0.20"/>
<rect x="390.2" y="121.60" width="84.4" height="0.7" fill="#000" opacity="0.38"/>
<rect x="390.2" y="122.30" width="84.4" height="0.5" fill="#000" opacity="0.06"/>
<rect x="390.2" y="122.80" width="84.4" height="0.7" fill="#000" opacity="0.32"/>
<rect x="390.2" y="123.50" width="84.4" height="0.7" fill="#000" opacity="0.44"/>
<rect x="390.2" y="124.20" width="84.4" height="0.7" fill="#000" opacity="0.00"/>
<rect x="390.2" y="124.90" width="84.4" height="0.7" fill="#000" opacity="0.42"/>
<rect x="390.2" y="125.60" width="84.4" height="1.0" fill="#000" opacity="0.38"/>
<rect x="390.2" y="126.60" width="84.4" height="0.7" fill="#000" opacity="0.11"/>
<rect x="390.2" y="127.30" width="84.4" height="0.5" fill="#000" opacity="0.10"/>
<rect x="390.2" y="127.80" width="84.4" height="0.5" fill="#000" opacity="0.24"/>
<rect x="390.2" y="128.30" width="84.4" height="1.0" fill="#000" opacity="0.05"/>
<rect x="390.2" y="129.30" width="84.4" height="1.0" fill="#000" opacity="0.32"/>
<rect x="390.2" y="130.30" width="84.4" height="0.7" fill="#000" opacity="0.04"/>
<rect x="390.2" y="131.00" width="84.4" height="0.5" fill="#000" opacity="0.00"/>
<rect x="390.2" y="131.50" width="84.4" height="0.5" fill="#000" opacity="0.10"/>
<rect x="390.2" y="132.00" width="84.4" height="0.5" fill="#000" opacity="0.29"/>
<rect x="390.2" y="132.50" width="84.4" height="0.7" fill="#000" opacity="0.43"/>
<rect x="390.2" y="133.20" width="84.4" height="1.0" fill="#000" opacity="0.11"/>
<rect x="390.2" y="134.20" width="84.4" height="1.0" fill="#000" opacity="0.20"/>
<rect x="390.2" y="135.20" width="84.4" height="0.5" fill="#000" opacity="0.04"/>
<rect x="390.2" y="135.70" width="84.4" height="0.7" fill="#000" opacity="0.24"/>
<rect x="390.2" y="136.40" width="84.4" height="1.0" fill="#000" opacity="0.09"/>
<rect x="390.2" y="137.40" width="84.4" height="0.7" fill="#000" opacity="0.10"/>
<rect x="390.2" y="138.10" width="84.4" height="1.0" fill="#000" opacity="0.00"/>
<rect x="390.2" y="139.10" width="84.4" height="1.0" fill="#000" opacity="0.14"/>
<rect x="390.2" y="140.10" width="84.4" height="0.7" fill="#000" opacity="0.13"/>
<rect x="390.2" y="140.80" width="84.4" height="0.7" fill="#000" opacity="0.29"/>
<rect x="390.2" y="141.50" width="84.4" height="0.5" fill="#000" opacity="0.21"/>
<rect x="390.2" y="142.00" width="84.4" height="0.5" fill="#000" opacity="0.25"/>
<rect x="390.2" y="142.50" width="84.4" height="0.5" fill="#000" opacity="0.43"/>
<rect x="390.2" y="143.00" width="84.4" height="1.0" fill="#000" opacity="0.29"/>
<rect x="390.2" y="144.00" width="84.4" height="0.5" fill="#000" opacity="0.00"/>
<rect x="390.2" y="144.50" width="84.4" height="0.7" fill="#000" opacity="0.19"/>
<rect x="390.2" y="145.20" width="84.4" height="1.0" fill="#000" opacity="0.09"/>
<rect x="390.2" y="146.20" width="84.4" height="0.7" fill="#000" opacity="0.05"/>
<rect x="390.2" y="146.90" width="84.4" height="0.7" fill="#000" opacity="0.20"/>
<rect x="390.2" y="147.60" width="84.4" height="0.5" fill="#000" opacity="0.11"/>
<rect x="390.2" y="148.10" width="84.4" height="1.0" fill="#000" opacity="0.07"/>
<rect x="390.2" y="149.10" width="84.4" height="0.7" fill="#000" opacity="0.08"/>
<rect x="390.2" y="149.80" width="84.4" height="0.7" fill="#000" opacity="0.04"/>
<rect x="390.2" y="150.50" width="84.4" height="0.7" fill="#000" opacity="0.16"/>
<rect x="390.2" y="151.20" width="84.4" height="1.0" fill="#000" opacity="0.01"/>
<rect x="390.2" y="152.20" width="84.4" height="0.7" fill="#000" opacity="0.21"/>
<rect x="390.2" y="152.90" width="84.4" height="0.7" fill="#000" opacity="0.17"/>
<rect x="390.2" y="153.60" width="84.4" height="0.5" fill="#000" opacity="0.05"/>
<rect x="390.2" y="154.10" width="84.4" height="0.5" fill="#000" opacity="0.06"/>
<rect x="390.2" y="154.60" width="84.4" height="0.7" fill="#000" opacity="0.02"/>
<rect x="390.2" y="155.30" width="84.4" height="1.0" fill="#000" opacity="0.11"/>
<rect x="390.2" y="156.30" width="84.4" height="0.5" fill="#000" opacity="0.20"/>
<rect x="390.2" y="156.80" width="84.4" height="0.7" fill="#000" opacity="0.09"/>
<rect x="390.2" y="157.50" width="84.4" height="1.0" fill="#000" opacity="0.01"/>
<rect x="390.2" y="158.50" width="84.4" height="1.0" fill="#000" opacity="0.03"/>
<rect x="390.2" y="159.50" width="84.4" height="0.7" fill="#000" opacity="0.01"/>
<rect x="390.2" y="160.20" width="84.4" height="0.5" fill="#000" opacity="0.21"/>
<rect x="390.2" y="160.70" width="84.4" height="0.5" fill="#000" opacity="0.09"/>
<rect x="390.2" y="161.20" width="84.4" height="1.0" fill="#000" opacity="0.01"/>
<rect x="390.2" y="162.20" width="84.4" height="0.7" fill="#000" opacity="0.10"/>
<rect x="390.2" y="162.90" width="84.4" height="1.0" fill="#000" opacity="0.19"/>
<rect x="390.2" y="163.90" width="84.4" height="1.0" fill="#000" opacity="0.02"/>
<rect x="390.2" y="164.90" width="84.4" height="0.5" fill="#000" opacity="0.20"/>
<rect x="390.2" y="165.40" width="84.4" height="0.7" fill="#000" opacity="0.04"/>
<rect x="390.2" y="166.10" width="84.4" height="1.0" fill="#000" opacity="0.21"/>
<rect x="390.2" y="167.10" width="84.4" height="1.0" fill="#000" opacity="0.10"/>
<rect x="390.2" y="168.10" width="84.4" height="0.7" fill="#000" opacity="0.15"/>
<rect x="390.2" y="168.80" width="84.4" height="0.7" fill="#000" opacity="0.18"/>
<rect x="390.2" y="169.50" width="84.4" height="0.7" fill="#000" opacity="0.10"/>
<rect x="390.2" y="170.20" width="84.4" height="0.5" fill="#000" opacity="0.00"/>
<rect x="390.2" y="170.70" width="84.4" height="0.7" fill="#000" opacity="0.02"/>
<rect x="390.2" y="171.40" width="84.4" height="0.7" fill="#000" opacity="0.21"/>
<rect x="390.2" y="172.10" width="84.4" height="0.5" fill="#000" opacity="0.12"/>
<rect x="390.2" y="172.60" width="84.4" height="0.5" fill="#000" opacity="0.08"/>
<rect x="390.2" y="173.10" width="84.4" height="0.7" fill="#000" opacity="0.18"/>
<rect x="390.2" y="173.80" width="84.4" height="0.7" fill="#000" opacity="0.02"/>
<rect x="390.2" y="174.50" width="84.4" height="1.0" fill="#000" opacity="0.10"/>
<rect x="390.2" y="175.50" width="84.4" height="0.7" fill="#000" opacity="0.12"/>
<rect x="390.2" y="176.20" width="84.4" height="0.7" fill="#000" opacity="0.04"/>
<rect x="390.2" y="176.90" width="84.4" height="0.7" fill="#000" opacity="0.16"/>
<rect x="390.2" y="177.60" width="84.4" height="0.7" fill="#000" opacity="0.01"/>
<rect x="390.2" y="178.30" width="84.4" height="0.7" fill="#000" opacity="0.05"/>
<rect x="390.2" y="179.00" width="84.4" height="1.0" fill="#000" opacity="0.17"/>
<rect x="390.2" y="180.00" width="84.4" height="0.5" fill="#000" opacity="0.08"/>
<rect x="390.2" y="180.50" width="84.4" height="0.7" fill="#000" opacity="0.01"/>
<rect x="390.2" y="181.20" width="84.4" height="0.5" fill="#000" opacity="0.06"/>
<rect x="390.2" y="181.70" width="84.4" height="1.0" fill="#000" opacity="0.01"/>
<rect x="390.2" y="182.70" width="84.4" height="1.0" fill="#000" opacity="0.07"/>
<rect x="390.2" y="183.70" width="84.4" height="0.7" fill="#000" opacity="0.07"/>
<rect x="390.2" y="184.40" width="84.4" height="1.0" fill="#000" opacity="0.01"/>
<rect x="390.2" y="185.40" width="84.4" height="1.0" fill="#000" opacity="0.16"/>
<rect x="390.2" y="186.40" width="84.4" height="0.7" fill="#000" opacity="0.20"/>
<rect x="390.2" y="187.10" width="84.4" height="0.7" fill="#000" opacity="0.00"/>
<rect x="390.2" y="187.80" width="84.4" height="1.0" fill="#000" opacity="0.20"/>
<rect x="390.2" y="188.80" width="84.4" height="1.0" fill="#000" opacity="0.21"/>
<rect x="390.2" y="189.80" width="84.4" height="0.5" fill="#000" opacity="0.01"/>
<rect x="390.2" y="190.30" width="84.4" height="0.5" fill="#000" opacity="0.02"/>
<rect x="390.2" y="190.80" width="84.4" height="1.0" fill="#000" opacity="0.21"/>
<rect x="390.2" y="191.80" width="84.4" height="0.7" fill="#000" opacity="0.17"/>
<rect x="390.2" y="192.50" width="84.4" height="0.7" fill="#000" opacity="0.18"/>
<rect x="390.2" y="193.20" width="84.4" height="0.5" fill="#000" opacity="0.20"/>
<rect x="390.2" y="193.70" width="84.4" height="0.5" fill="#000" opacity="0.00"/>
<rect x="390.2" y="194.20" width="84.4" height="1.0" fill="#000" opacity="0.07"/>
<rect x="390.2" y="195.20" width="84.4" height="1.0" fill="#000" opacity="0.17"/>
<rect x="390.2" y="196.20" width="84.4" height="1.0" fill="#000" opacity="0.05"/>
<rect x="390.2" y="197.20" width="84.4" height="0.7" fill="#000" opacity="0.10"/>
<rect x="390.2" y="197.90" width="84.4" height="1.0" fill="#000" opacity="0.02"/>
<rect x="390.2" y="198.90" width="84.4" height="0.5" fill="#000" opacity="0.09"/>
<rect x="390.2" y="199.40" width="84.4" height="0.5" fill="#000" opacity="0.05"/>
<rect x="390.2" y="199.90" width="84.4" height="0.5" fill="#000" opacity="0.14"/>
<rect x="390.2" y="200.40" width="84.4" height="0.7" fill="#000" opacity="0.12"/>
<rect x="390.2" y="201.10" width="84.4" height="0.7" fill="#000" opacity="0.04"/>
<rect x="390.2" y="201.80" width="84.4" height="0.7" fill="#000" opacity="0.19"/>
<rect x="390.2" y="202.50" width="84.4" height="0.5" fill="#000" opacity="0.06"/>
<rect x="390.2" y="203.00" width="84.4" height="0.5" fill="#000" opacity="0.05"/>
<rect x="390.2" y="203.50" width="84.4" height="0.7" fill="#000" opacity="0.11"/>
<rect x="390.2" y="204.20" width="84.4" height="1.0" fill="#000" opacity="0.21"/>
<rect x="390.2" y="205.20" width="84.4" height="0.5" fill="#000" opacity="0.05"/>
<rect x="390.2" y="205.70" width="84.4" height="0.7" fill="#000" opacity="0.10"/>
<rect x="390.2" y="206.40" width="84.4" height="1.0" fill="#000" opacity="0.05"/>
<rect x="390.2" y="207.40" width="84.4" height="1.0" fill="#000" opacity="0.19"/>
<rect x="390.2" y="208.40" width="84.4" height="1.0" fill="#000" opacity="0.17"/>
<rect x="390.2" y="209.40" width="84.4" height="0.7" fill="#000" opacity="0.06"/>
<rect x="390.2" y="210.10" width="84.4" height="1.0" fill="#000" opacity="0.06"/>
<rect x="390.2" y="211.10" width="84.4" height="0.7" fill="#000" opacity="0.16"/>
<rect x="390.2" y="211.80" width="84.4" height="0.5" fill="#000" opacity="0.10"/>
<rect x="390.2" y="212.30" width="84.4" height="0.5" fill="#000" opacity="0.05"/>
<rect x="390.2" y="212.80" width="84.4" height="0.5" fill="#000" opacity="0.06"/>
<rect x="390.2" y="213.30" width="84.4" height="1.0" fill="#000" opacity="0.04"/>
<rect x="390.2" y="214.30" width="84.4" height="0.5" fill="#000" opacity="0.09"/>
<rect x="390.2" y="214.80" width="84.4" height="0.5" fill="#000" opacity="0.11"/>
<rect x="390.2" y="215.30" width="84.4" height="0.5" fill="#000" opacity="0.14"/>
<rect x="390.2" y="215.80" width="84.4" height="0.5" fill="#000" opacity="0.14"/>
<rect x="390.2" y="216.30" width="84.4" height="0.5" fill="#000" opacity="0.02"/>
<rect x="390.2" y="216.80" width="84.4" height="0.7" fill="#000" opacity="0.19"/>
<rect x="390.2" y="217.50" width="84.4" height="0.5" fill="#000" opacity="0.18"/>
<rect x="390.2" y="218.00" width="84.4" height="0.7" fill="#000" opacity="0.01"/>
<rect x="390.2" y="218.70" width="84.4" height="0.7" fill="#000" opacity="0.05"/>
<rect x="390.2" y="219.40" width="84.4" height="0.5" fill="#000" opacity="0.04"/>
<rect x="390.2" y="219.90" width="84.4" height="1.0" fill="#000" opacity="0.04"/>
<rect x="390.2" y="220.90" width="84.4" height="0.5" fill="#000" opacity="0.08"/>
<rect x="390.2" y="221.40" width="84.4" height="0.5" fill="#000" opacity="0.10"/>
<rect x="390.2" y="221.90" width="84.4" height="0.7" fill="#000" opacity="0.17"/>
<rect x="390.2" y="222.60" width="84.4" height="1.0" fill="#000" opacity="0.21"/>
<rect x="390.2" y="223.60" width="84.4" height="0.5" fill="#000" opacity="0.14"/>
<rect x="390.2" y="224.10" width="84.4" height="1.0" fill="#000" opacity="0.14"/>
<rect x="390.2" y="225.10" width="84.4" height="0.5" fill="#000" opacity="0.01"/>
<rect x="390.2" y="225.60" width="84.4" height="0.7" fill="#000" opacity="0.03"/>
<rect x="390.2" y="226.30" width="84.4" height="0.5" fill="#000" opacity="0.22"/>
<rect x="390.2" y="226.80" width="84.4" height="0.5" fill="#000" opacity="0.13"/>
<rect x="390.2" y="227.30" width="84.4" height="1.0" fill="#000" opacity="0.20"/>
<rect x="390.2" y="228.30" width="84.4" height="0.5" fill="#000" opacity="0.18"/>
<rect x="390.2" y="228.80" width="84.4" height="0.7" fill="#000" opacity="0.15"/>
<rect x="390.2" y="229.50" width="84.4" height="0.5" fill="#000" opacity="0.14"/>
<rect x="390.2" y="230.00" width="84.4" height="0.5" fill="#000" opacity="0.04"/>
<rect x="390.2" y="230.50" width="84.4" height="0.7" fill="#000" opacity="0.12"/>
<rect x="390.2" y="231.20" width="84.4" height="0.5" fill="#000" opacity="0.09"/>
<rect x="390.2" y="231.70" width="84.4" height="0.7" fill="#000" opacity="0.15"/>
<rect x="390.2" y="232.40" width="84.4" height="0.5" fill="#000" opacity="0.14"/>
<rect x="390.2" y="232.90" width="84.4" height="0.5" fill="#000" opacity="0.14"/>
<rect x="390.2" y="233.40" width="84.4" height="0.7" fill="#000" opacity="0.15"/>
<rect x="390.2" y="234.10" width="84.4" height="0.7" fill="#000" opacity="0.22"/>
<rect x="390.2" y="234.80" width="84.4" height="1.0" fill="#000" opacity="0.07"/>
<rect x="390.2" y="235.80" width="84.4" height="0.5" fill="#000" opacity="0.07"/>
<rect x="390.2" y="236.30" width="84.4" height="1.0" fill="#000" opacity="0.19"/>
<rect x="390.2" y="237.30" width="84.4" height="0.7" fill="#000" opacity="0.09"/>
<rect x="390.2" y="238.00" width="84.4" height="0.7" fill="#000" opacity="0.14"/>
<rect x="390.2" y="238.70" width="84.4" height="0.7" fill="#000" opacity="0.16"/>
<rect x="390.2" y="239.40" width="84.4" height="0.5" fill="#000" opacity="0.21"/>
<rect x="390.2" y="239.90" width="84.4" height="0.7" fill="#000" opacity="0.20"/>
<rect x="390.2" y="240.60" width="84.4" height="0.7" fill="#000" opacity="0.02"/>
<rect x="390.2" y="241.30" width="84.4" height="0.5" fill="#000" opacity="0.09"/>
<rect x="390.2" y="241.80" width="84.4" height="0.7" fill="#000" opacity="0.10"/>
<rect x="390.2" y="242.50" width="84.4" height="0.5" fill="#000" opacity="0.03"/>
<rect x="390.2" y="243.00" width="84.4" height="0.5" fill="#000" opacity="0.12"/>
<rect x="390.2" y="243.50" width="84.4" height="1.0" fill="#000" opacity="0.18"/>
<rect x="390.2" y="244.50" width="84.4" height="0.7" fill="#000" opacity="0.02"/>
<rect x="390.2" y="245.20" width="84.4" height="1.0" fill="#000" opacity="0.20"/>
<text x="287.20" y="253.20" font-size="5.7" fill="#222" text-anchor="middle" stroke="#222" stroke-width="0.15" >−3 kb</text>
<text x="371.80" y="253.20" font-size="5.7" fill="#222" text-anchor="middle" stroke="#222" stroke-width="0.15" >3 kb</text>
<text x="329.50" y="253.20" font-size="5.7" fill="#222" text-anchor="middle" stroke="#222" stroke-width="0.15" >enhancer</text>
<text x="329.50" y="261.30" font-size="5.7" fill="#222" text-anchor="middle" stroke="#222" stroke-width="0.15" >center</text>
<text x="390.20" y="253.20" font-size="5.7" fill="#222" text-anchor="middle" stroke="#222" stroke-width="0.15" >−3 kb</text>
<text x="474.60" y="253.20" font-size="5.7" fill="#222" text-anchor="middle" stroke="#222" stroke-width="0.15" >3 kb</text>
<text x="432.40" y="253.20" font-size="5.7" fill="#222" text-anchor="middle" stroke="#222" stroke-width="0.15" >enhancer</text>
<text x="432.40" y="261.30" font-size="5.7" fill="#222" text-anchor="middle" stroke="#222" stroke-width="0.15" >center</text>
<text x="281.50" y="160.30" font-size="6.6" fill="#222" text-anchor="middle" stroke="#222" stroke-width="0.15" textLength="45.8" lengthAdjust="spacingAndGlyphs" transform="rotate(-90 281.50 160.30)" >Gained enhancers</text>
<text x="380.30" y="275.80" font-size="5.8" fill="#222" text-anchor="middle" stroke="#222" stroke-width="0.15" >Fold Enrichment</text>
<rect x="344.4" y="278.5" width="71.6" height="5" fill="url(#cbar)"/>
<line x1="344.8" y1="283.5" x2="344.8" y2="285" stroke="#333" stroke-width="0.5"/>
<line x1="380.2" y1="283.5" x2="380.2" y2="285" stroke="#333" stroke-width="0.5"/>
<line x1="415.6" y1="283.5" x2="415.6" y2="285" stroke="#333" stroke-width="0.5"/>
<text x="345.10" y="291.20" font-size="5.9" fill="#222" text-anchor="middle" stroke="#222" stroke-width="0.15" >−2</text>
<text x="380.20" y="291.20" font-size="5.9" fill="#222" text-anchor="middle" stroke="#222" stroke-width="0.15" >0</text>
<text x="415.30" y="291.20" font-size="5.9" fill="#222" text-anchor="middle" stroke="#222" stroke-width="0.15" >3</text>
<rect x="123.1" y="337" width="10.7" height="111.2" fill="#f0b4a4"/>
<rect x="31.6" y="337.3" width="11.9" height="55.9" fill="#c8c8cb"/>
<rect x="31.6" y="393.2" width="11.9" height="55" fill="#c8102e"/>
<rect x="31.6" y="337.3" width="11.9" height="110.9" fill="none" stroke="#222" stroke-width="0.9"/>
<line x1="43.6" y1="337" x2="43.6" y2="448.4" stroke="#111" stroke-width="1.2"/>
<text x="39.30" y="364.90" font-size="5.9" fill="#333" text-anchor="middle" stroke="#333" stroke-width="0.15" transform="rotate(-90 39.30 364.90)" >Normal</text>
<text x="39.30" y="420.80" font-size="5.7" fill="#fff" text-anchor="middle" stroke="#fff" stroke-width="0.15" transform="rotate(-90 39.30 420.80)" >Tumor</text>
<line x1="44.2" y1="357.0" x2="172.6" y2="357.0" stroke="#cbcbcb" stroke-width="0.6"/>
<text x="44.80" y="339.40" font-size="2.9" fill="#666" stroke="#666" stroke-width="0.15" >0-17</text>
<text x="46.40" y="346.90" font-size="6.0" fill="#d23a5a" stroke="#d23a5a" stroke-width="0.15" textLength="25.2" lengthAdjust="spacingAndGlyphs" >H3K27ac</text>
<path d="M44.30 357.0 L45.00 355.80 L45.70 357.0Z" fill="#c8102e"/>
<path d="M69.30 357.0 L70.00 356.50 L70.70 357.0Z" fill="#c8102e"/>
<path d="M92.30 357.0 L93.00 356.50 L93.70 357.0Z" fill="#c8102e"/>
<path d="M126.30 357.0 L127.00 356.20 L127.70 357.0Z" fill="#c8102e"/>
<line x1="44.2" y1="375.0" x2="172.6" y2="375.0" stroke="#cbcbcb" stroke-width="0.6"/>
<text x="44.80" y="359.70" font-size="2.9" fill="#666" stroke="#666" stroke-width="0.15" >0-33</text>
<text x="46.40" y="366.80" font-size="6.0" fill="#5a3a6a" stroke="#5a3a6a" stroke-width="0.15" textLength="26.2" lengthAdjust="spacingAndGlyphs" >H3K4me1</text>
<path d="M44.30 375.0 L45.00 373.50 L45.70 375.0Z" fill="#7a1f6a"/>
<path d="M59.30 375.0 L60.00 374.40 L60.70 375.0Z" fill="#7a1f6a"/>
<path d="M65.30 375.0 L66.00 374.20 L66.70 375.0Z" fill="#7a1f6a"/>
<path d="M69.30 375.0 L70.00 374.00 L70.70 375.0Z" fill="#7a1f6a"/>
<path d="M74.30 375.0 L75.00 374.20 L75.70 375.0Z" fill="#7a1f6a"/>
<path d="M92.30 375.0 L93.00 374.20 L93.70 375.0Z" fill="#7a1f6a"/>
<path d="M96.30 375.0 L97.00 374.40 L97.70 375.0Z" fill="#7a1f6a"/>
<path d="M112.30 375.0 L113.00 373.80 L113.70 375.0Z" fill="#7a1f6a"/>
<path d="M115.30 375.0 L116.00 373.50 L116.70 375.0Z" fill="#7a1f6a"/>
<path d="M126.30 375.0 L127.00 373.40 L127.70 375.0Z" fill="#7a1f6a"/>
<path d="M128.30 375.0 L129.00 373.60 L129.70 375.0Z" fill="#7a1f6a"/>
<path d="M139.30 375.0 L140.00 374.40 L140.70 375.0Z" fill="#7a1f6a"/>
<path d="M144.30 375.0 L145.00 374.00 L145.70 375.0Z" fill="#7a1f6a"/>
<path d="M147.30 375.0 L148.00 373.50 L148.70 375.0Z" fill="#7a1f6a"/>
<path d="M149.30 375.0 L150.00 374.00 L150.70 375.0Z" fill="#7a1f6a"/>
<line x1="44.2" y1="392.8" x2="172.6" y2="392.8" stroke="#cbcbcb" stroke-width="0.6"/>
<text x="44.80" y="378.00" font-size="2.9" fill="#666" stroke="#666" stroke-width="0.15" >0-44</text>
<text x="46.40" y="384.20" font-size="6.0" fill="#4caa4c" stroke="#4caa4c" stroke-width="0.15" textLength="25.2" lengthAdjust="spacingAndGlyphs" >H3K4me3</text>
<path d="M44.30 392.8 L45.00 391.00 L45.70 392.8Z" fill="#3aaa35"/>
<path d="M69.70 392.8 L70.60 389.60 L71.50 392.8Z" fill="#3aaa35"/>
<path d="M92.60 392.8 L93.50 388.60 L94.40 392.8Z" fill="#3aaa35"/>
<path d="M126.30 392.8 L127.00 392.20 L127.70 392.8Z" fill="#3aaa35"/>
<line x1="44.2" y1="411.8" x2="172.6" y2="411.8" stroke="#cbcbcb" stroke-width="0.6"/>
<text x="44.80" y="396.90" font-size="2.9" fill="#666" stroke="#666" stroke-width="0.15" >0-17</text>
<text x="46.40" y="402.20" font-size="6.0" fill="#d23a5a" stroke="#d23a5a" stroke-width="0.15" textLength="25.2" lengthAdjust="spacingAndGlyphs" >H3K27ac</text>
<path d="M44.40 411.8 L45.30 409.60 L46.20 411.8Z" fill="#c8102e"/>
<path d="M59.30 411.8 L60.00 411.20 L60.70 411.8Z" fill="#c8102e"/>
<path d="M74.30 411.8 L75.00 411.20 L75.70 411.8Z" fill="#c8102e"/>
<path d="M92.30 411.8 L93.00 410.30 L93.70 411.8Z" fill="#c8102e"/>
<path d="M112.30 411.8 L113.00 410.80 L113.70 411.8Z" fill="#c8102e"/>
<path d="M116.30 411.8 L117.00 410.30 L117.70 411.8Z" fill="#c8102e"/>
<path d="M119.30 411.8 L120.00 411.00 L120.70 411.8Z" fill="#c8102e"/>
<path d="M124.60 411.8 L125.50 409.30 L126.40 411.8Z" fill="#c8102e"/>
<path d="M125.80 411.8 L126.70 406.80 L127.60 411.8Z" fill="#c8102e"/>
<path d="M127.60 411.8 L128.50 409.30 L129.40 411.8Z" fill="#c8102e"/>
<path d="M129.30 411.8 L130.00 410.20 L130.70 411.8Z" fill="#c8102e"/>
<path d="M145.80 411.8 L146.50 410.80 L147.20 411.8Z" fill="#c8102e"/>
<path d="M147.60 411.8 L148.30 410.30 L149.00 411.8Z" fill="#c8102e"/>
<path d="M149.10 411.8 L150.00 409.60 L150.90 411.8Z" fill="#c8102e"/>
<path d="M159.30 411.8 L160.00 411.30 L160.70 411.8Z" fill="#c8102e"/>
<path d="M166.30 411.8 L167.00 411.30 L167.70 411.8Z" fill="#c8102e"/>
<line x1="44.2" y1="429.5" x2="172.6" y2="429.5" stroke="#cbcbcb" stroke-width="0.6"/>
<text x="44.80" y="415.00" font-size="2.9" fill="#666" stroke="#666" stroke-width="0.15" >0-33</text>
<text x="46.40" y="422.00" font-size="6.0" fill="#5a3a6a" stroke="#5a3a6a" stroke-width="0.15" textLength="26.2" lengthAdjust="spacingAndGlyphs" >H3K4me1</text>
<path d="M44.10 429.5 L45.00 426.50 L45.90 429.5Z" fill="#7a1f6a"/>
<path d="M46.30 429.5 L47.00 428.30 L47.70 429.5Z" fill="#7a1f6a"/>
<path d="M51.30 429.5 L52.00 428.50 L52.70 429.5Z" fill="#7a1f6a"/>
<path d="M57.30 429.5 L58.00 428.70 L58.70 429.5Z" fill="#7a1f6a"/>
<path d="M62.30 429.5 L63.00 428.70 L63.70 429.5Z" fill="#7a1f6a"/>
<path d="M65.30 429.5 L66.00 428.10 L66.70 429.5Z" fill="#7a1f6a"/>
<path d="M67.30 429.5 L68.00 427.70 L68.70 429.5Z" fill="#7a1f6a"/>
<path d="M69.30 429.5 L70.00 428.00 L70.70 429.5Z" fill="#7a1f6a"/>
<path d="M71.30 429.5 L72.00 427.70 L72.70 429.5Z" fill="#7a1f6a"/>
<path d="M73.30 429.5 L74.00 428.30 L74.70 429.5Z" fill="#7a1f6a"/>
<path d="M77.30 429.5 L78.00 428.50 L78.70 429.5Z" fill="#7a1f6a"/>
<path d="M81.30 429.5 L82.00 428.70 L82.70 429.5Z" fill="#7a1f6a"/>
<path d="M85.30 429.5 L86.00 428.70 L86.70 429.5Z" fill="#7a1f6a"/>
<path d="M92.10 429.5 L93.00 427.30 L93.90 429.5Z" fill="#7a1f6a"/>
<path d="M93.60 429.5 L94.50 427.00 L95.40 429.5Z" fill="#7a1f6a"/>
<path d="M95.30 429.5 L96.00 427.70 L96.70 429.5Z" fill="#7a1f6a"/>
<path d="M97.30 429.5 L98.00 427.50 L98.70 429.5Z" fill="#7a1f6a"/>
<path d="M99.30 429.5 L100.00 428.00 L100.70 429.5Z" fill="#7a1f6a"/>
<path d="M103.30 429.5 L104.00 428.50 L104.70 429.5Z" fill="#7a1f6a"/>
<path d="M106.30 429.5 L107.00 428.70 L107.70 429.5Z" fill="#7a1f6a"/>
<path d="M109.30 429.5 L110.00 428.70 L110.70 429.5Z" fill="#7a1f6a"/>
<path d="M111.30 429.5 L112.00 427.70 L112.70 429.5Z" fill="#7a1f6a"/>
<path d="M112.90 429.5 L113.80 426.90 L114.70 429.5Z" fill="#7a1f6a"/>
<path d="M114.60 429.5 L115.50 427.30 L116.40 429.5Z" fill="#7a1f6a"/>
<path d="M116.10 429.5 L117.00 426.90 L117.90 429.5Z" fill="#7a1f6a"/>
<path d="M117.60 429.5 L118.50 427.30 L119.40 429.5Z" fill="#7a1f6a"/>
<path d="M123.30 429.5 L124.00 428.00 L124.70 429.5Z" fill="#7a1f6a"/>
<path d="M125.10 429.5 L126.00 426.50 L126.90 429.5Z" fill="#7a1f6a"/>
<path d="M126.60 429.5 L127.50 425.50 L128.40 429.5Z" fill="#7a1f6a"/>
<path d="M127.70 429.5 L128.60 424.90 L129.50 429.5Z" fill="#7a1f6a"/>
<path d="M129.10 429.5 L130.00 426.50 L130.90 429.5Z" fill="#7a1f6a"/>
<path d="M131.30 429.5 L132.00 428.00 L132.70 429.5Z" fill="#7a1f6a"/>
<path d="M133.30 429.5 L134.00 428.30 L134.70 429.5Z" fill="#7a1f6a"/>
<path d="M136.30 429.5 L137.00 427.90 L137.70 429.5Z" fill="#7a1f6a"/>
<path d="M138.30 429.5 L139.00 428.30 L139.70 429.5Z" fill="#7a1f6a"/>
<path d="M140.30 429.5 L141.00 427.90 L141.70 429.5Z" fill="#7a1f6a"/>
<path d="M142.30 429.5 L143.00 428.30 L143.70 429.5Z" fill="#7a1f6a"/>
<path d="M144.30 429.5 L145.00 427.50 L145.70 429.5Z" fill="#7a1f6a"/>
<path d="M146.30 429.5 L147.00 427.90 L147.70 429.5Z" fill="#7a1f6a"/>
<path d="M148.30 429.5 L149.20 426.50 L150.10 429.5Z" fill="#7a1f6a"/>
<path d="M150.30 429.5 L151.00 427.70 L151.70 429.5Z" fill="#7a1f6a"/>
<path d="M154.30 429.5 L155.00 428.50 L155.70 429.5Z" fill="#7a1f6a"/>
<path d="M159.30 429.5 L160.00 428.70 L160.70 429.5Z" fill="#7a1f6a"/>
<path d="M163.30 429.5 L164.00 428.70 L164.70 429.5Z" fill="#7a1f6a"/>
<path d="M167.30 429.5 L168.00 428.70 L168.70 429.5Z" fill="#7a1f6a"/>
<path d="M170.30 429.5 L171.00 428.00 L171.70 429.5Z" fill="#7a1f6a"/>
<line x1="44.2" y1="447.7" x2="172.6" y2="447.7" stroke="#cbcbcb" stroke-width="0.6"/>
<text x="44.80" y="432.60" font-size="2.9" fill="#666" stroke="#666" stroke-width="0.15" >0-44</text>
<text x="46.40" y="438.90" font-size="6.0" fill="#4caa4c" stroke="#4caa4c" stroke-width="0.15" textLength="25.2" lengthAdjust="spacingAndGlyphs" >H3K4me3</text>
<path d="M44.60 447.7 L45.50 442.70 L46.40 447.7Z" fill="#3aaa35"/>
<path d="M49.30 447.7 L50.00 446.90 L50.70 447.7Z" fill="#3aaa35"/>
<path d="M54.30 447.7 L55.00 447.10 L55.70 447.7Z" fill="#3aaa35"/>
<path d="M59.30 447.7 L60.00 446.90 L60.70 447.7Z" fill="#3aaa35"/>
<path d="M65.30 447.7 L66.00 446.70 L66.70 447.7Z" fill="#3aaa35"/>
<path d="M69.60 447.7 L70.50 438.20 L71.40 447.7Z" fill="#3aaa35"/>
<path d="M71.30 447.7 L72.00 445.70 L72.70 447.7Z" fill="#3aaa35"/>
<path d="M77.30 447.7 L78.00 446.90 L78.70 447.7Z" fill="#3aaa35"/>
<path d="M84.30 447.7 L85.00 446.90 L85.70 447.7Z" fill="#3aaa35"/>
<path d="M92.60 447.7 L93.50 436.70 L94.40 447.7Z" fill="#3aaa35"/>
<path d="M95.10 447.7 L96.00 443.70 L96.90 447.7Z" fill="#3aaa35"/>
<path d="M99.30 447.7 L100.00 446.70 L100.70 447.7Z" fill="#3aaa35"/>
<path d="M115.50 447.7 L116.40 440.70 L117.30 447.7Z" fill="#3aaa35"/>
<path d="M117.60 447.7 L118.50 443.70 L119.40 447.7Z" fill="#3aaa35"/>
<path d="M125.80 447.7 L126.70 442.70 L127.60 447.7Z" fill="#3aaa35"/>
<path d="M127.30 447.7 L128.00 445.70 L128.70 447.7Z" fill="#3aaa35"/>
<path d="M137.30 447.7 L138.00 446.90 L138.70 447.7Z" fill="#3aaa35"/>
<path d="M141.30 447.7 L142.00 446.90 L142.70 447.7Z" fill="#3aaa35"/>
<path d="M145.10 447.7 L146.00 444.70 L146.90 447.7Z" fill="#3aaa35"/>
<path d="M147.30 447.7 L148.00 445.70 L148.70 447.7Z" fill="#3aaa35"/>
<path d="M151.30 447.7 L152.00 446.90 L152.70 447.7Z" fill="#3aaa35"/>
<path d="M159.30 447.7 L160.00 446.90 L160.70 447.7Z" fill="#3aaa35"/>
<path d="M169.30 447.7 L170.00 446.90 L170.70 447.7Z" fill="#3aaa35"/>
<g fill="#111"><rect x="63.3" y="452.9" width="2.2" height="6.9" rx="0.6"/><rect x="66.6" y="452.9" width="1.0" height="6.9" fill="#333"/><rect x="69.3" y="452.9" width="2.0" height="6.9"/><rect x="63.3" y="455.7" width="8" height="1.2"/></g>
<text x="70.40" y="467.50" font-size="6.2" fill="#222" text-anchor="middle" stroke="#222" stroke-width="0.15" font-style="italic" >Prdm1</text>
<line x1="130.2" y1="344.8" x2="147.8" y2="344.8" stroke="#111" stroke-width="0.9"/>
<line x1="130.3" y1="343.6" x2="130.3" y2="346" stroke="#111" stroke-width="0.6"/>
<line x1="147.7" y1="343.6" x2="147.7" y2="346" stroke="#111" stroke-width="0.6"/>
<text x="139.00" y="342.20" font-size="4.6" fill="#222" text-anchor="middle" stroke="#222" stroke-width="0.15" >50 kb</text>
<text x="138.60" y="352.80" font-size="4.8" fill="#222" text-anchor="middle" stroke="#222" stroke-width="0.15" textLength="63" lengthAdjust="spacingAndGlyphs" >chr10:44,098,049-44,489,406</text>
<path d="M202.2 345.4 V393.3 H225.2" fill="none" stroke="#444" stroke-width="0.8"/>
<path d="M202.2 399.9 V448.8 H225.2" fill="none" stroke="#444" stroke-width="0.8"/>
<line x1="200.4" y1="345.6" x2="202.2" y2="345.6" stroke="#444" stroke-width="0.7"/>
<text x="198.60" y="347.30" font-size="4.6" fill="#333" text-anchor="middle" stroke="#333" stroke-width="0.15" >6</text>
<rect x="209.2" y="374.2" width="10.8" height="19.1" fill="#c8c8cb"/>
<rect x="209.2" y="403" width="10.8" height="45.8" fill="#c8102e"/>
<text x="193.3" y="397.2" font-size="6.6" fill="#222" stroke="#222" stroke-width="0.2" text-anchor="middle" textLength="78.6" lengthAdjust="spacingAndGlyphs" transform="rotate(-90 193.3 397.2)">Log<tspan font-size="3.8" dy="1.3">2</tspan><tspan dy="-1.3"> ratio RNA-seq read counts</tspan></text>
<text x="390.2" y="314.8" font-size="7.5" fill="#222" stroke="#222" stroke-width="0.28" textLength="97.3" lengthAdjust="spacingAndGlyphs">MSigDB perturbation −log10 (<tspan font-style="italic">P</tspan>-value)</text>
<line x1="366.1" y1="330.8" x2="509.8" y2="330.8" stroke="#333" stroke-width="0.9"/>
<line x1="366.1" y1="330.4" x2="366.1" y2="492.9" stroke="#333" stroke-width="0.9"/>
<line x1="366.2" y1="328.6" x2="366.2" y2="330.8" stroke="#333" stroke-width="0.7"/>
<text x="366.20" y="324.30" font-size="5.9" fill="#333" text-anchor="middle" stroke="#333" stroke-width="0.15" >0</text>
<line x1="413.8" y1="328.6" x2="413.8" y2="330.8" stroke="#333" stroke-width="0.7"/>
<text x="413.80" y="324.30" font-size="5.9" fill="#333" text-anchor="middle" stroke="#333" stroke-width="0.15" >100</text>
<line x1="461.4" y1="328.6" x2="461.4" y2="330.8" stroke="#333" stroke-width="0.7"/>
<text x="461.40" y="324.30" font-size="5.9" fill="#333" text-anchor="middle" stroke="#333" stroke-width="0.15" >200</text>
<line x1="509" y1="328.6" x2="509" y2="330.8" stroke="#333" stroke-width="0.7"/>
<text x="509.00" y="324.30" font-size="5.9" fill="#333" text-anchor="middle" stroke="#333" stroke-width="0.15" >300</text>
<rect x="366.8" y="342.60" width="123.80" height="6" fill="#c4c4c8"/>
<line x1="363.4" y1="345.6" x2="366.1" y2="345.6" stroke="#333" stroke-width="0.7"/>
<text x="256.70" y="347.60" font-size="5.5" fill="#333" stroke="#333" stroke-width="0.15" textLength="103.4" lengthAdjust="spacingAndGlyphs" >CHEN_METABOLIC_SYNDROM_NETWORK</text>
<rect x="366.8" y="358.00" width="89.10" height="6" fill="#c4c4c8"/>
<line x1="363.4" y1="361.0" x2="366.1" y2="361.0" stroke="#333" stroke-width="0.7"/>
<text x="254.20" y="363.00" font-size="5.5" fill="#333" stroke="#333" stroke-width="0.15" textLength="105.9" lengthAdjust="spacingAndGlyphs" >MARSON_BOUND_BY_FOXP3_STIMULATED</text>
<rect x="366.8" y="373.60" width="88.80" height="6" fill="#c8102e"/>
<line x1="363.4" y1="376.6" x2="366.1" y2="376.6" stroke="#333" stroke-width="0.7"/>
<text x="271.00" y="378.60" font-size="5.5" fill="#c8102e" stroke="#c8102e" stroke-width="0.15" textLength="89.1" lengthAdjust="spacingAndGlyphs" >MULLIGHAN_MLL_SIGNATURE_1_UP</text>
<rect x="366.8" y="388.90" width="80.20" height="6" fill="#c4c4c8"/>
<line x1="363.4" y1="391.9" x2="366.1" y2="391.9" stroke="#333" stroke-width="0.7"/>
<text x="276.10" y="393.90" font-size="5.5" fill="#333" stroke="#333" stroke-width="0.15" textLength="84" lengthAdjust="spacingAndGlyphs" >MCLACHLAN_DENTAL_CARIES_UP</text>
<rect x="366.8" y="404.50" width="80.20" height="6" fill="#c8102e"/>
<line x1="363.4" y1="407.5" x2="366.1" y2="407.5" stroke="#333" stroke-width="0.7"/>
<text x="271.00" y="409.50" font-size="5.5" fill="#c8102e" stroke="#c8102e" stroke-width="0.15" textLength="89.1" lengthAdjust="spacingAndGlyphs" >MULLIGHAN_MLL_SIGNATURE_2_UP</text>
<rect x="366.8" y="419.90" width="76.20" height="6" fill="#c4c4c8"/>
<line x1="363.4" y1="422.9" x2="366.1" y2="422.9" stroke="#333" stroke-width="0.7"/>
<text x="301.50" y="424.90" font-size="5.5" fill="#333" stroke="#333" stroke-width="0.15" textLength="58.6" lengthAdjust="spacingAndGlyphs" >QI_PLASMACYTOMA_UP</text>
<rect x="366.8" y="435.40" width="75.90" height="6" fill="#c4c4c8"/>
<line x1="363.4" y1="438.4" x2="366.1" y2="438.4" stroke="#333" stroke-width="0.7"/>
<text x="292.70" y="436.20" font-size="5.5" fill="#333" stroke="#333" stroke-width="0.15" textLength="67.4" lengthAdjust="spacingAndGlyphs" >FULCHER_INFLAMMATORY_</text>
<text x="281.80" y="444.60" font-size="5.5" fill="#333" stroke="#333" stroke-width="0.15" textLength="78.3" lengthAdjust="spacingAndGlyphs" >RESPONSE_LECTIN_VS_LPS_DN</text>
<rect x="366.8" y="450.90" width="65.40" height="6" fill="#c4c4c8"/>
<line x1="363.4" y1="453.9" x2="366.1" y2="453.9" stroke="#333" stroke-width="0.7"/>
<text x="295.60" y="451.70" font-size="5.5" fill="#333" stroke="#333" stroke-width="0.15" textLength="64.5" lengthAdjust="spacingAndGlyphs" >RUTELLA_RESPONSE_TO_</text>
<text x="284.50" y="460.10" font-size="5.5" fill="#333" stroke="#333" stroke-width="0.15" textLength="75.6" lengthAdjust="spacingAndGlyphs" >HGF_VS_CSF2RB_AND_IL4_UP</text>
<rect x="366.8" y="466.20" width="64.00" height="6" fill="#c4c4c8"/>
<line x1="363.4" y1="469.2" x2="366.1" y2="469.2" stroke="#333" stroke-width="0.7"/>
<text x="261.70" y="471.20" font-size="5.5" fill="#333" stroke="#333" stroke-width="0.15" textLength="98.4" lengthAdjust="spacingAndGlyphs" >LI_INDUCED_T_TO_NATURAL_KILLER_UP</text>
<rect x="366.8" y="481.80" width="63.20" height="6" fill="#c4c4c8"/>
<line x1="363.4" y1="484.8" x2="366.1" y2="484.8" stroke="#333" stroke-width="0.7"/>
<text x="263.30" y="486.80" font-size="5.5" fill="#333" stroke="#333" stroke-width="0.15" textLength="96.8" lengthAdjust="spacingAndGlyphs" >LEE_DIFFERENTIATING_T_LYMPHOCYTE</text>
<line x1="42.6" y1="586.0" x2="205.7" y2="586.0" stroke="#aaa" stroke-width="0.6" stroke-dasharray="1.2 0.6"/>
<path d="M42.80 585.70 L43.80 573.40 L45.40 564.20 L46.90 559.50 L49.20 557.20 L50.80 552.60 L53.10 549.50 L55.40 545.70 L58.50 544.20 L61.50 541.00 L64.60 539.50 L69.20 537.20 L73.10 535.70 L77.70 531.80 L81.50 528.80 L86.20 526.50 L90.80 524.90 L95.40 527.20 L101.50 529.50 L109.20 532.60 L113.00 534.60 L120.00 538.00 L123.00 539.00 L130.00 543.00 L143.00 551.50 L150.00 555.50 L160.00 561.50 L170.00 567.70 L180.00 574.00 L190.00 580.50 L198.00 585.80" fill="none" stroke="#5aaa2a" stroke-width="1.35" stroke-linejoin="round"/>
<rect x="42.6" y="521.8" width="163.10" height="67.00" fill="none" stroke="#555" stroke-width="1.15"/>
<line x1="40.6" y1="524.30" x2="42.6" y2="524.30" stroke="#444" stroke-width="0.7"/>
<text x="37.70" y="526.20" font-size="5.4" fill="#333" text-anchor="end" stroke="#333" stroke-width="0.15" >0.6</text>
<line x1="40.6" y1="544.80" x2="42.6" y2="544.80" stroke="#444" stroke-width="0.7"/>
<text x="37.70" y="546.70" font-size="5.4" fill="#333" text-anchor="end" stroke="#333" stroke-width="0.15" >0.4</text>
<line x1="40.6" y1="565.40" x2="42.6" y2="565.40" stroke="#444" stroke-width="0.7"/>
<text x="37.70" y="567.30" font-size="5.4" fill="#333" text-anchor="end" stroke="#333" stroke-width="0.15" >0.2</text>
<line x1="40.6" y1="586.00" x2="42.6" y2="586.00" stroke="#444" stroke-width="0.7"/>
<text x="37.70" y="587.90" font-size="5.4" fill="#333" text-anchor="end" stroke="#333" stroke-width="0.15" >0</text>
<text x="24.50" y="555.60" font-size="7.2" fill="#222" text-anchor="middle" stroke="#222" stroke-width="0.15" textLength="43.2" lengthAdjust="spacingAndGlyphs" transform="rotate(-90 24.50 555.60)" >Enrichment score</text>
<text x="124.10" y="517.40" font-size="7.9" fill="#222" text-anchor="middle" stroke="#222" stroke-width="0.08" textLength="81" lengthAdjust="spacingAndGlyphs" >Acute myeloid leukemia</text>
<text x="174.30" y="530.60" font-size="6.9" fill="#222" stroke="#222" stroke-width="0.1" textLength="27.5" lengthAdjust="spacingAndGlyphs" >NES: 1.62</text>
<text x="174.30" y="538.70" font-size="6.9" fill="#222" stroke="#222" stroke-width="0.1" textLength="24.3" lengthAdjust="spacingAndGlyphs" >FDR: 0.0</text>
<rect x="42.90" y="590" width="163.70" height="21.7" fill="#fff" stroke="#ccc" stroke-width="0.4"/>
<rect x="43.20" y="590.2" width="1.40" height="21.4" fill="rgb(15,15,15)"/>
<rect x="44.90" y="590.2" width="1.10" height="21.4" fill="rgb(10,10,10)"/>
<rect x="46.82" y="590.2" width="1.16" height="21.4" fill="rgb(10,10,10)"/>
<rect x="48.90" y="590.2" width="0.80" height="21.4" fill="rgb(10,10,10)"/>
<rect x="50.82" y="590.2" width="0.70" height="21.4" fill="rgb(32,32,32)"/>
<rect x="52.20" y="590.2" width="0.70" height="21.4" fill="rgb(58,58,58)"/>
<rect x="53.33" y="590.2" width="1.68" height="21.4" fill="rgb(10,10,10)"/>
<rect x="56.28" y="590.2" width="1.32" height="21.4" fill="rgb(29,29,29)"/>
<rect x="58.02" y="590.2" width="1.18" height="21.4" fill="rgb(33,33,33)"/>
<rect x="59.65" y="590.2" width="0.81" height="21.4" fill="rgb(50,50,50)"/>
<rect x="61.28" y="590.2" width="1.08" height="21.4" fill="rgb(60,60,60)"/>
<rect x="63.52" y="590.2" width="1.17" height="21.4" fill="rgb(29,29,29)"/>
<rect x="65.69" y="590.2" width="1.10" height="21.4" fill="rgb(26,26,26)"/>
<rect x="67.44" y="590.2" width="1.70" height="21.4" fill="rgb(128,128,128)"/>
<rect x="70.18" y="590.2" width="0.95" height="21.4" fill="rgb(63,63,63)"/>
<rect x="71.73" y="590.2" width="0.92" height="21.4" fill="rgb(121,121,121)"/>
<rect x="73.41" y="590.2" width="1.53" height="21.4" fill="rgb(95,95,95)"/>
<rect x="75.69" y="590.2" width="1.65" height="21.4" fill="rgb(74,74,74)"/>
<rect x="77.93" y="590.2" width="1.60" height="21.4" fill="rgb(75,75,75)"/>
<rect x="80.35" y="590.2" width="1.68" height="21.4" fill="rgb(69,69,69)"/>
<rect x="83.00" y="590.2" width="1.46" height="21.4" fill="rgb(92,92,92)"/>
<rect x="85.10" y="590.2" width="0.70" height="21.4" fill="rgb(42,42,42)"/>
<rect x="86.88" y="590.2" width="0.73" height="21.4" fill="rgb(168,168,168)"/>
<rect x="88.23" y="590.2" width="0.71" height="21.4" fill="rgb(150,150,150)"/>
<rect x="89.50" y="590.2" width="1.22" height="21.4" fill="rgb(116,116,116)"/>
<rect x="91.52" y="590.2" width="0.81" height="21.4" fill="rgb(94,94,94)"/>
<rect x="93.31" y="590.2" width="0.73" height="21.4" fill="rgb(81,81,81)"/>
<rect x="94.81" y="590.2" width="0.83" height="21.4" fill="rgb(90,90,90)"/>
<rect x="96.77" y="590.2" width="0.93" height="21.4" fill="rgb(197,197,197)"/>
<rect x="96.00" y="590.2" width="0.90" height="21.4" fill="rgb(90,90,90)"/>
<rect x="101.60" y="590.2" width="0.80" height="21.4" fill="rgb(100,100,100)"/>
<rect x="108.00" y="590.2" width="0.80" height="21.4" fill="rgb(110,110,110)"/>
<rect x="112.00" y="590.2" width="0.80" height="21.4" fill="rgb(90,90,90)"/>
<rect x="119.50" y="590.2" width="1.00" height="21.4" fill="rgb(130,130,130)"/>
<rect x="123.40" y="590.2" width="0.80" height="21.4" fill="rgb(120,120,120)"/>
<rect x="126.00" y="590.2" width="0.80" height="21.4" fill="rgb(100,100,100)"/>
<rect x="132.20" y="590.2" width="0.80" height="21.4" fill="rgb(130,130,130)"/>
<rect x="138.60" y="590.2" width="1.20" height="21.4" fill="rgb(120,120,120)"/>
<rect x="164.70" y="590.2" width="0.80" height="21.4" fill="rgb(150,150,150)"/>
<rect x="191.80" y="590.2" width="0.80" height="21.4" fill="rgb(150,150,150)"/>
<rect x="195.30" y="590.2" width="0.80" height="21.4" fill="rgb(140,140,140)"/>
<rect x="43.30" y="612.2" width="12.80" height="5.1" fill="#d3121c"/>
<rect x="55.50" y="612.2" width="19.40" height="5.1" fill="#dc2530"/>
<rect x="74.30" y="612.2" width="26.80" height="5.1" fill="#e33c48"/>
<rect x="100.50" y="612.2" width="27.10" height="5.1" fill="#ea5a68"/>
<rect x="127.00" y="612.2" width="30.90" height="5.1" fill="#ef7886"/>
<rect x="157.30" y="612.2" width="40.60" height="5.1" fill="#f6c0d4"/>
<rect x="197.30" y="612.2" width="8.90" height="5.1" fill="#fcecf2"/>
<text x="43.00" y="626.30" font-size="5.7" fill="#222" stroke="#222" stroke-width="0.15" >Tumor</text>
<text x="205.90" y="626.30" font-size="5.7" fill="#222" text-anchor="end" stroke="#222" stroke-width="0.15" >Normal</text>
<line x1="295.5" y1="585.2" x2="457.0" y2="585.2" stroke="#aaa" stroke-width="0.6" stroke-dasharray="1.2 0.6"/>
<path d="M295.80 585.30 L296.80 578.00 L297.90 570.30 L299.20 563.40 L300.70 562.60 L302.20 561.80 L303.50 562.60 L304.50 558.00 L306.80 554.20 L309.90 549.50 L313.00 545.70 L314.50 542.60 L316.80 541.80 L318.40 538.00 L320.70 538.00 L323.80 535.70 L325.60 530.30 L329.20 528.80 L331.50 524.90 L334.50 525.40 L339.20 526.50 L343.80 526.90 L348.40 528.00 L354.50 529.50 L360.70 531.80 L364.50 534.20 L373.00 538.00 L378.00 540.20 L385.00 543.20 L390.00 545.30 L395.00 547.80 L405.00 554.50 L420.00 564.60 L435.00 575.20 L450.00 585.60" fill="none" stroke="#5aaa2a" stroke-width="1.35" stroke-linejoin="round"/>
<rect x="295.5" y="521.2" width="161.50" height="66.80" fill="none" stroke="#555" stroke-width="1.15"/>
<line x1="293.5" y1="523.50" x2="295.5" y2="523.50" stroke="#444" stroke-width="0.7"/>
<text x="290.60" y="525.40" font-size="5.4" fill="#333" text-anchor="end" stroke="#333" stroke-width="0.15" >0.6</text>
<line x1="293.5" y1="544.00" x2="295.5" y2="544.00" stroke="#444" stroke-width="0.7"/>
<text x="290.60" y="545.90" font-size="5.4" fill="#333" text-anchor="end" stroke="#333" stroke-width="0.15" >0.4</text>
<line x1="293.5" y1="564.60" x2="295.5" y2="564.60" stroke="#444" stroke-width="0.7"/>
<text x="290.60" y="566.50" font-size="5.4" fill="#333" text-anchor="end" stroke="#333" stroke-width="0.15" >0.2</text>
<line x1="293.5" y1="585.20" x2="295.5" y2="585.20" stroke="#444" stroke-width="0.7"/>
<text x="290.60" y="587.10" font-size="5.4" fill="#333" text-anchor="end" stroke="#333" stroke-width="0.15" >0</text>
<text x="277.40" y="555.60" font-size="7.2" fill="#222" text-anchor="middle" stroke="#222" stroke-width="0.15" textLength="43.2" lengthAdjust="spacingAndGlyphs" transform="rotate(-90 277.40 555.60)" >Enrichment score</text>
<text x="376.70" y="517.40" font-size="7.9" fill="#222" text-anchor="middle" stroke="#222" stroke-width="0.08" textLength="87.5" lengthAdjust="spacingAndGlyphs" >Myeloid cell development</text>
<text x="426.30" y="530.60" font-size="6.9" fill="#222" stroke="#222" stroke-width="0.1" textLength="27.5" lengthAdjust="spacingAndGlyphs" >NES: 1.61</text>
<text x="426.30" y="538.70" font-size="6.9" fill="#222" stroke="#222" stroke-width="0.1" textLength="24.3" lengthAdjust="spacingAndGlyphs" >FDR: 0.0</text>
<rect x="295.80" y="590" width="162.10" height="21.7" fill="#fff" stroke="#ccc" stroke-width="0.4"/>
<rect x="296.20" y="590.2" width="1.40" height="21.4" fill="rgb(15,15,15)"/>
<rect x="297.90" y="590.2" width="1.62" height="21.4" fill="rgb(97,97,97)"/>
<rect x="299.99" y="590.2" width="1.25" height="21.4" fill="rgb(10,10,10)"/>
<rect x="302.03" y="590.2" width="1.18" height="21.4" fill="rgb(49,49,49)"/>
<rect x="304.01" y="590.2" width="0.84" height="21.4" fill="rgb(53,53,53)"/>
<rect x="305.66" y="590.2" width="0.63" height="21.4" fill="rgb(86,86,86)"/>
<rect x="307.07" y="590.2" width="1.16" height="21.4" fill="rgb(69,69,69)"/>
<rect x="309.29" y="590.2" width="0.99" height="21.4" fill="rgb(101,101,101)"/>
<rect x="311.22" y="590.2" width="1.32" height="21.4" fill="rgb(69,69,69)"/>
<rect x="313.50" y="590.2" width="1.67" height="21.4" fill="rgb(12,12,12)"/>
<rect x="315.90" y="590.2" width="1.23" height="21.4" fill="rgb(99,99,99)"/>
<rect x="318.12" y="590.2" width="0.95" height="21.4" fill="rgb(91,91,91)"/>
<rect x="320.12" y="590.2" width="1.25" height="21.4" fill="rgb(81,81,81)"/>
<rect x="322.17" y="590.2" width="1.31" height="21.4" fill="rgb(72,72,72)"/>
<rect x="324.17" y="590.2" width="1.50" height="21.4" fill="rgb(86,86,86)"/>
<rect x="326.24" y="590.2" width="0.73" height="21.4" fill="rgb(77,77,77)"/>
<rect x="327.61" y="590.2" width="1.23" height="21.4" fill="rgb(77,77,77)"/>
<rect x="329.98" y="590.2" width="0.96" height="21.4" fill="rgb(55,55,55)"/>
<rect x="331.62" y="590.2" width="1.46" height="21.4" fill="rgb(98,98,98)"/>
<rect x="333.97" y="590.2" width="0.88" height="21.4" fill="rgb(129,129,129)"/>
<rect x="335.89" y="590.2" width="1.51" height="21.4" fill="rgb(122,122,122)"/>
<rect x="338.02" y="590.2" width="1.20" height="21.4" fill="rgb(128,128,128)"/>
<rect x="340.47" y="590.2" width="0.78" height="21.4" fill="rgb(67,67,67)"/>
<rect x="342.53" y="590.2" width="0.66" height="21.4" fill="rgb(87,87,87)"/>
<rect x="344.32" y="590.2" width="1.36" height="21.4" fill="rgb(100,100,100)"/>
<rect x="346.95" y="590.2" width="1.49" height="21.4" fill="rgb(141,141,141)"/>
<rect x="349.72" y="590.2" width="1.42" height="21.4" fill="rgb(90,90,90)"/>
<rect x="352.00" y="590.2" width="0.80" height="21.4" fill="rgb(110,110,110)"/>
<rect x="356.00" y="590.2" width="0.80" height="21.4" fill="rgb(90,90,90)"/>
<rect x="363.60" y="590.2" width="0.80" height="21.4" fill="rgb(110,110,110)"/>
<rect x="369.90" y="590.2" width="0.80" height="21.4" fill="rgb(120,120,120)"/>
<rect x="377.30" y="590.2" width="1.60" height="21.4" fill="rgb(70,70,70)"/>
<rect x="385.80" y="590.2" width="1.00" height="21.4" fill="rgb(60,60,60)"/>
<rect x="395.30" y="590.2" width="0.80" height="21.4" fill="rgb(130,130,130)"/>
<rect x="403.80" y="590.2" width="0.80" height="21.4" fill="rgb(140,140,140)"/>
<rect x="411.10" y="590.2" width="0.80" height="21.4" fill="rgb(130,130,130)"/>
<rect x="420.70" y="590.2" width="0.80" height="21.4" fill="rgb(140,140,140)"/>
<rect x="446.10" y="590.2" width="0.80" height="21.4" fill="rgb(140,140,140)"/>
<rect x="296.00" y="612.2" width="11.60" height="5.1" fill="#d3121c"/>
<rect x="307.00" y="612.2" width="18.60" height="5.1" fill="#dc2530"/>
<rect x="325.00" y="612.2" width="27.60" height="5.1" fill="#e33c48"/>
<rect x="352.00" y="612.2" width="28.60" height="5.1" fill="#ea5a68"/>
<rect x="380.00" y="612.2" width="29.90" height="5.1" fill="#ef7886"/>
<rect x="409.30" y="612.2" width="40.80" height="5.1" fill="#f6c0d4"/>
<rect x="449.50" y="612.2" width="8.00" height="5.1" fill="#fcecf2"/>
<text x="295.90" y="626.30" font-size="5.7" fill="#222" stroke="#222" stroke-width="0.15" >Tumor</text>
<text x="457.20" y="626.30" font-size="5.7" fill="#222" text-anchor="end" stroke="#222" stroke-width="0.15" >Normal</text>
<rect x="0.5" y="0.5" width="519" height="632" fill="none" stroke="#5e5e5e" stroke-width="1.2"/>
</svg></body></html>
